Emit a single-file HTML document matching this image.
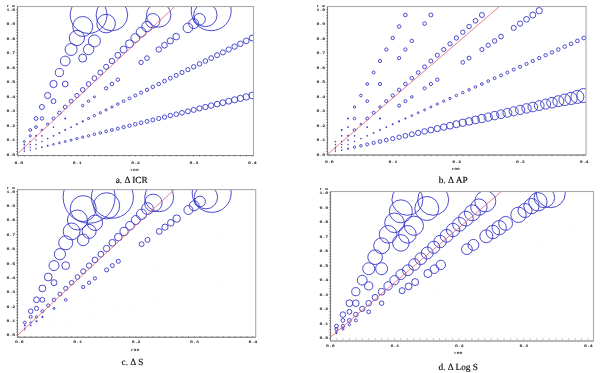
<!DOCTYPE html><html><head><meta charset="utf-8"><style>html,body{margin:0;padding:0;background:#fff;}svg{display:block}</style></head><body>
<svg width="600" height="373" viewBox="0 0 600 373">
<rect width="600" height="373" fill="#fff"/>
<clipPath id="clipa"><rect x="17.5" y="6.5" width="236.0" height="149.0"/></clipPath>
<g clip-path="url(#clipa)" fill="none" stroke="#3838c8" stroke-width="0.9">
<circle cx="24.3" cy="141.5" r="1.0"/>
<circle cx="30.2" cy="130.0" r="1.4"/>
<circle cx="36.0" cy="118.5" r="1.9"/>
<circle cx="41.9" cy="107.0" r="2.5"/>
<circle cx="47.7" cy="95.5" r="3.1"/>
<circle cx="53.5" cy="84.0" r="3.6"/>
<circle cx="59.4" cy="72.5" r="4.1"/>
<circle cx="65.2" cy="61.0" r="4.9"/>
<circle cx="71.1" cy="49.5" r="6.0"/>
<circle cx="76.9" cy="38.0" r="7.6"/>
<circle cx="82.7" cy="26.5" r="10.0"/>
<circle cx="88.6" cy="15.0" r="18.4"/>
<circle cx="24.3" cy="144.4" r="0.85" fill="#4040c0" stroke="none"/>
<circle cx="30.2" cy="135.8" r="1.1"/>
<circle cx="36.0" cy="127.1" r="1.4"/>
<circle cx="41.9" cy="118.5" r="1.7"/>
<circle cx="53.5" cy="101.2" r="2.4"/>
<circle cx="65.2" cy="84.0" r="2.9"/>
<circle cx="82.7" cy="58.1" r="4.0"/>
<circle cx="88.6" cy="49.5" r="5.2"/>
<circle cx="94.4" cy="40.9" r="6.0"/>
<circle cx="106.1" cy="23.6" r="9.3"/>
<circle cx="111.9" cy="15.0" r="15.8"/>
<circle cx="24.3" cy="147.2" r="0.75" fill="#4040c0" stroke="none"/>
<circle cx="30.2" cy="141.5" r="0.85" fill="#4040c0" stroke="none"/>
<circle cx="36.0" cy="135.8" r="0.95" fill="#4040c0" stroke="none"/>
<circle cx="41.9" cy="130.0" r="0.9"/>
<circle cx="47.7" cy="124.2" r="1.2"/>
<circle cx="53.5" cy="118.5" r="1.5"/>
<circle cx="59.4" cy="112.8" r="1.75"/>
<circle cx="65.2" cy="107.0" r="1.9"/>
<circle cx="71.1" cy="101.2" r="2.0"/>
<circle cx="76.9" cy="95.5" r="2.1"/>
<circle cx="82.7" cy="89.8" r="2.3"/>
<circle cx="88.6" cy="84.0" r="2.35"/>
<circle cx="94.4" cy="78.2" r="2.4"/>
<circle cx="100.3" cy="72.5" r="2.45"/>
<circle cx="106.1" cy="66.8" r="2.55"/>
<circle cx="111.9" cy="61.0" r="2.7"/>
<circle cx="117.8" cy="55.2" r="2.9"/>
<circle cx="123.6" cy="49.5" r="3.5"/>
<circle cx="129.5" cy="43.8" r="4.0"/>
<circle cx="135.3" cy="38.0" r="4.4"/>
<circle cx="141.1" cy="32.2" r="4.9"/>
<circle cx="147.0" cy="26.5" r="5.2"/>
<circle cx="152.8" cy="20.8" r="7.2"/>
<circle cx="158.7" cy="15.0" r="12.2"/>
<circle cx="24.3" cy="148.7" r="0.65" fill="#4040c0" stroke="none"/>
<circle cx="30.2" cy="144.4" r="0.75" fill="#4040c0" stroke="none"/>
<circle cx="36.0" cy="140.1" r="0.75" fill="#4040c0" stroke="none"/>
<circle cx="41.9" cy="135.8" r="0.85" fill="#4040c0" stroke="none"/>
<circle cx="53.5" cy="127.1" r="0.85" fill="#4040c0" stroke="none"/>
<circle cx="65.2" cy="118.5" r="0.95" fill="#4040c0" stroke="none"/>
<circle cx="82.7" cy="105.6" r="1.2"/>
<circle cx="88.6" cy="101.2" r="1.25"/>
<circle cx="94.4" cy="96.9" r="1.0"/>
<circle cx="106.1" cy="88.3" r="1.65"/>
<circle cx="111.9" cy="84.0" r="1.8"/>
<circle cx="117.8" cy="79.7" r="1.75"/>
<circle cx="141.1" cy="62.4" r="2.2"/>
<circle cx="147.0" cy="58.1" r="2.35"/>
<circle cx="158.7" cy="49.5" r="2.7"/>
<circle cx="164.5" cy="45.2" r="2.9"/>
<circle cx="170.3" cy="40.9" r="3.1"/>
<circle cx="176.2" cy="36.6" r="3.3"/>
<circle cx="187.9" cy="27.9" r="4.8"/>
<circle cx="193.7" cy="23.6" r="5.0"/>
<circle cx="199.5" cy="19.3" r="5.8"/>
<circle cx="205.4" cy="15.0" r="11.7"/>
<circle cx="211.2" cy="10.7" r="20.0"/>
<circle cx="24.3" cy="150.1" r="0.65" fill="#4040c0" stroke="none"/>
<circle cx="30.2" cy="147.2" r="0.70" fill="#4040c0" stroke="none"/>
<circle cx="36.0" cy="144.4" r="0.75" fill="#4040c0" stroke="none"/>
<circle cx="41.9" cy="141.5" r="0.80" fill="#4040c0" stroke="none"/>
<circle cx="47.7" cy="138.6" r="0.85" fill="#4040c0" stroke="none"/>
<circle cx="53.5" cy="135.8" r="0.90" fill="#4040c0" stroke="none"/>
<circle cx="59.4" cy="132.9" r="0.95" fill="#4040c0" stroke="none"/>
<circle cx="65.2" cy="130.0" r="0.95" fill="#4040c0" stroke="none"/>
<circle cx="71.1" cy="127.1" r="0.95" fill="#4040c0" stroke="none"/>
<circle cx="76.9" cy="124.2" r="1.00" fill="#4040c0" stroke="none"/>
<circle cx="82.7" cy="121.4" r="1.05" fill="#4040c0" stroke="none"/>
<circle cx="88.6" cy="118.5" r="1.1"/>
<circle cx="94.4" cy="115.6" r="1.15"/>
<circle cx="100.3" cy="112.8" r="1.15"/>
<circle cx="106.1" cy="109.9" r="1.1"/>
<circle cx="111.9" cy="107.0" r="1.1"/>
<circle cx="117.8" cy="104.1" r="1.3"/>
<circle cx="123.6" cy="101.2" r="1.37"/>
<circle cx="129.5" cy="98.4" r="1.44"/>
<circle cx="135.3" cy="95.5" r="1.51"/>
<circle cx="141.1" cy="92.6" r="1.58"/>
<circle cx="147.0" cy="89.8" r="1.65"/>
<circle cx="152.8" cy="86.9" r="1.72"/>
<circle cx="158.7" cy="84.0" r="1.79"/>
<circle cx="164.5" cy="81.1" r="1.86"/>
<circle cx="170.3" cy="78.2" r="1.93"/>
<circle cx="176.2" cy="75.4" r="2.0"/>
<circle cx="182.0" cy="72.5" r="2.07"/>
<circle cx="187.9" cy="69.6" r="2.13"/>
<circle cx="193.7" cy="66.8" r="2.2"/>
<circle cx="199.5" cy="63.9" r="2.27"/>
<circle cx="205.4" cy="61.0" r="2.34"/>
<circle cx="211.2" cy="58.1" r="2.41"/>
<circle cx="217.1" cy="55.2" r="2.48"/>
<circle cx="222.9" cy="52.4" r="2.55"/>
<circle cx="228.7" cy="49.5" r="2.62"/>
<circle cx="234.6" cy="46.6" r="2.69"/>
<circle cx="240.4" cy="43.8" r="2.76"/>
<circle cx="246.3" cy="40.9" r="2.83"/>
<circle cx="252.1" cy="38.0" r="2.9"/>
<circle cx="24.3" cy="151.6" r="0.65" fill="#4040c0" stroke="none"/>
<circle cx="30.2" cy="150.1" r="0.75" fill="#4040c0" stroke="none"/>
<circle cx="36.0" cy="148.7" r="0.80" fill="#4040c0" stroke="none"/>
<circle cx="41.9" cy="147.2" r="0.85" fill="#4040c0" stroke="none"/>
<circle cx="47.7" cy="145.8" r="0.95" fill="#4040c0" stroke="none"/>
<circle cx="53.5" cy="144.4" r="0.85"/>
<circle cx="59.4" cy="142.9" r="0.9"/>
<circle cx="65.2" cy="141.5" r="1.0"/>
<circle cx="71.1" cy="140.1" r="1.05"/>
<circle cx="76.9" cy="138.6" r="1.1"/>
<circle cx="82.7" cy="137.2" r="1.15"/>
<circle cx="88.6" cy="135.8" r="1.2"/>
<circle cx="94.4" cy="134.3" r="1.25"/>
<circle cx="100.3" cy="132.9" r="1.3"/>
<circle cx="106.1" cy="131.4" r="1.38"/>
<circle cx="111.9" cy="130.0" r="1.45"/>
<circle cx="117.8" cy="128.6" r="1.53"/>
<circle cx="123.6" cy="127.1" r="1.61"/>
<circle cx="129.5" cy="125.7" r="1.68"/>
<circle cx="135.3" cy="124.2" r="1.76"/>
<circle cx="141.1" cy="122.8" r="1.84"/>
<circle cx="147.0" cy="121.4" r="1.92"/>
<circle cx="152.8" cy="119.9" r="1.99"/>
<circle cx="158.7" cy="118.5" r="2.07"/>
<circle cx="164.5" cy="117.1" r="2.15"/>
<circle cx="170.3" cy="115.6" r="2.22"/>
<circle cx="176.2" cy="114.2" r="2.3"/>
<circle cx="182.0" cy="112.8" r="2.38"/>
<circle cx="187.9" cy="111.3" r="2.45"/>
<circle cx="193.7" cy="109.9" r="2.53"/>
<circle cx="199.5" cy="108.4" r="2.61"/>
<circle cx="205.4" cy="107.0" r="2.68"/>
<circle cx="211.2" cy="105.6" r="2.76"/>
<circle cx="217.1" cy="104.1" r="2.84"/>
<circle cx="222.9" cy="102.7" r="2.92"/>
<circle cx="228.7" cy="101.2" r="2.99"/>
<circle cx="234.6" cy="99.8" r="3.07"/>
<circle cx="240.4" cy="98.4" r="3.15"/>
<circle cx="246.3" cy="96.9" r="3.22"/>
<circle cx="252.1" cy="95.5" r="3.3"/>
</g>
<line clip-path="url(#clipa)" x1="17.5" y1="153.94" x2="174.7" y2="6.5" stroke="#e06070" stroke-width="0.8"/>
<rect x="17.5" y="6.5" width="236.0" height="149.0" fill="none" stroke="#a8a8a8" stroke-width="1.1"/>
<line x1="17.5" y1="6.5" x2="17.5" y2="155.5" stroke="#808080" stroke-width="1.1"/>
<line x1="17.5" y1="155.5" x2="253.5" y2="155.5" stroke="#858585" stroke-width="1.1"/>
<line x1="16.1" y1="154.3" x2="17.5" y2="154.3" stroke="#555" stroke-width="0.6"/>
<line x1="16.1" y1="151.4" x2="17.5" y2="151.4" stroke="#555" stroke-width="0.6"/>
<line x1="16.1" y1="148.5" x2="17.5" y2="148.5" stroke="#555" stroke-width="0.6"/>
<line x1="16.1" y1="145.6" x2="17.5" y2="145.6" stroke="#555" stroke-width="0.6"/>
<line x1="16.1" y1="142.7" x2="17.5" y2="142.7" stroke="#555" stroke-width="0.6"/>
<line x1="16.1" y1="139.8" x2="17.5" y2="139.8" stroke="#555" stroke-width="0.6"/>
<line x1="16.1" y1="136.9" x2="17.5" y2="136.9" stroke="#555" stroke-width="0.6"/>
<line x1="16.1" y1="134.0" x2="17.5" y2="134.0" stroke="#555" stroke-width="0.6"/>
<line x1="16.1" y1="131.1" x2="17.5" y2="131.1" stroke="#555" stroke-width="0.6"/>
<line x1="16.1" y1="128.2" x2="17.5" y2="128.2" stroke="#555" stroke-width="0.6"/>
<line x1="16.1" y1="125.3" x2="17.5" y2="125.3" stroke="#555" stroke-width="0.6"/>
<line x1="16.1" y1="122.4" x2="17.5" y2="122.4" stroke="#555" stroke-width="0.6"/>
<line x1="16.1" y1="119.5" x2="17.5" y2="119.5" stroke="#555" stroke-width="0.6"/>
<line x1="16.1" y1="116.7" x2="17.5" y2="116.7" stroke="#555" stroke-width="0.6"/>
<line x1="16.1" y1="113.8" x2="17.5" y2="113.8" stroke="#555" stroke-width="0.6"/>
<line x1="16.1" y1="110.9" x2="17.5" y2="110.9" stroke="#555" stroke-width="0.6"/>
<line x1="16.1" y1="108.0" x2="17.5" y2="108.0" stroke="#555" stroke-width="0.6"/>
<line x1="16.1" y1="105.1" x2="17.5" y2="105.1" stroke="#555" stroke-width="0.6"/>
<line x1="16.1" y1="102.2" x2="17.5" y2="102.2" stroke="#555" stroke-width="0.6"/>
<line x1="16.1" y1="99.3" x2="17.5" y2="99.3" stroke="#555" stroke-width="0.6"/>
<line x1="16.1" y1="96.4" x2="17.5" y2="96.4" stroke="#555" stroke-width="0.6"/>
<line x1="16.1" y1="93.5" x2="17.5" y2="93.5" stroke="#555" stroke-width="0.6"/>
<line x1="16.1" y1="90.6" x2="17.5" y2="90.6" stroke="#555" stroke-width="0.6"/>
<line x1="16.1" y1="87.7" x2="17.5" y2="87.7" stroke="#555" stroke-width="0.6"/>
<line x1="16.1" y1="84.8" x2="17.5" y2="84.8" stroke="#555" stroke-width="0.6"/>
<line x1="16.1" y1="81.9" x2="17.5" y2="81.9" stroke="#555" stroke-width="0.6"/>
<line x1="16.1" y1="79.0" x2="17.5" y2="79.0" stroke="#555" stroke-width="0.6"/>
<line x1="16.1" y1="76.1" x2="17.5" y2="76.1" stroke="#555" stroke-width="0.6"/>
<line x1="16.1" y1="73.2" x2="17.5" y2="73.2" stroke="#555" stroke-width="0.6"/>
<line x1="16.1" y1="70.3" x2="17.5" y2="70.3" stroke="#555" stroke-width="0.6"/>
<line x1="16.1" y1="67.4" x2="17.5" y2="67.4" stroke="#555" stroke-width="0.6"/>
<line x1="16.1" y1="64.5" x2="17.5" y2="64.5" stroke="#555" stroke-width="0.6"/>
<line x1="16.1" y1="61.6" x2="17.5" y2="61.6" stroke="#555" stroke-width="0.6"/>
<line x1="16.1" y1="58.7" x2="17.5" y2="58.7" stroke="#555" stroke-width="0.6"/>
<line x1="16.1" y1="55.8" x2="17.5" y2="55.8" stroke="#555" stroke-width="0.6"/>
<line x1="16.1" y1="52.9" x2="17.5" y2="52.9" stroke="#555" stroke-width="0.6"/>
<line x1="16.1" y1="50.0" x2="17.5" y2="50.0" stroke="#555" stroke-width="0.6"/>
<line x1="16.1" y1="47.1" x2="17.5" y2="47.1" stroke="#555" stroke-width="0.6"/>
<line x1="16.1" y1="44.3" x2="17.5" y2="44.3" stroke="#555" stroke-width="0.6"/>
<line x1="16.1" y1="41.4" x2="17.5" y2="41.4" stroke="#555" stroke-width="0.6"/>
<line x1="16.1" y1="38.5" x2="17.5" y2="38.5" stroke="#555" stroke-width="0.6"/>
<line x1="16.1" y1="35.6" x2="17.5" y2="35.6" stroke="#555" stroke-width="0.6"/>
<line x1="16.1" y1="32.7" x2="17.5" y2="32.7" stroke="#555" stroke-width="0.6"/>
<line x1="16.1" y1="29.8" x2="17.5" y2="29.8" stroke="#555" stroke-width="0.6"/>
<line x1="16.1" y1="26.9" x2="17.5" y2="26.9" stroke="#555" stroke-width="0.6"/>
<line x1="16.1" y1="24.0" x2="17.5" y2="24.0" stroke="#555" stroke-width="0.6"/>
<line x1="16.1" y1="21.1" x2="17.5" y2="21.1" stroke="#555" stroke-width="0.6"/>
<line x1="16.1" y1="18.2" x2="17.5" y2="18.2" stroke="#555" stroke-width="0.6"/>
<line x1="16.1" y1="15.3" x2="17.5" y2="15.3" stroke="#555" stroke-width="0.6"/>
<line x1="16.1" y1="12.4" x2="17.5" y2="12.4" stroke="#555" stroke-width="0.6"/>
<line x1="16.1" y1="9.5" x2="17.5" y2="9.5" stroke="#555" stroke-width="0.6"/>
<line x1="18.5" y1="155.5" x2="18.5" y2="156.7" stroke="#666" stroke-width="0.7"/>
<line x1="24.3" y1="155.5" x2="24.3" y2="156.7" stroke="#666" stroke-width="0.7"/>
<line x1="30.2" y1="155.5" x2="30.2" y2="156.7" stroke="#666" stroke-width="0.7"/>
<line x1="36.0" y1="155.5" x2="36.0" y2="156.7" stroke="#666" stroke-width="0.7"/>
<line x1="41.9" y1="155.5" x2="41.9" y2="156.7" stroke="#666" stroke-width="0.7"/>
<line x1="47.7" y1="155.5" x2="47.7" y2="156.7" stroke="#666" stroke-width="0.7"/>
<line x1="53.5" y1="155.5" x2="53.5" y2="156.7" stroke="#666" stroke-width="0.7"/>
<line x1="59.4" y1="155.5" x2="59.4" y2="156.7" stroke="#666" stroke-width="0.7"/>
<line x1="65.2" y1="155.5" x2="65.2" y2="156.7" stroke="#666" stroke-width="0.7"/>
<line x1="71.1" y1="155.5" x2="71.1" y2="156.7" stroke="#666" stroke-width="0.7"/>
<line x1="76.9" y1="155.5" x2="76.9" y2="156.7" stroke="#666" stroke-width="0.7"/>
<line x1="82.7" y1="155.5" x2="82.7" y2="156.7" stroke="#666" stroke-width="0.7"/>
<line x1="88.6" y1="155.5" x2="88.6" y2="156.7" stroke="#666" stroke-width="0.7"/>
<line x1="94.4" y1="155.5" x2="94.4" y2="156.7" stroke="#666" stroke-width="0.7"/>
<line x1="100.3" y1="155.5" x2="100.3" y2="156.7" stroke="#666" stroke-width="0.7"/>
<line x1="106.1" y1="155.5" x2="106.1" y2="156.7" stroke="#666" stroke-width="0.7"/>
<line x1="111.9" y1="155.5" x2="111.9" y2="156.7" stroke="#666" stroke-width="0.7"/>
<line x1="117.8" y1="155.5" x2="117.8" y2="156.7" stroke="#666" stroke-width="0.7"/>
<line x1="123.6" y1="155.5" x2="123.6" y2="156.7" stroke="#666" stroke-width="0.7"/>
<line x1="129.5" y1="155.5" x2="129.5" y2="156.7" stroke="#666" stroke-width="0.7"/>
<line x1="135.3" y1="155.5" x2="135.3" y2="156.7" stroke="#666" stroke-width="0.7"/>
<line x1="141.1" y1="155.5" x2="141.1" y2="156.7" stroke="#666" stroke-width="0.7"/>
<line x1="147.0" y1="155.5" x2="147.0" y2="156.7" stroke="#666" stroke-width="0.7"/>
<line x1="152.8" y1="155.5" x2="152.8" y2="156.7" stroke="#666" stroke-width="0.7"/>
<line x1="158.7" y1="155.5" x2="158.7" y2="156.7" stroke="#666" stroke-width="0.7"/>
<line x1="164.5" y1="155.5" x2="164.5" y2="156.7" stroke="#666" stroke-width="0.7"/>
<line x1="170.3" y1="155.5" x2="170.3" y2="156.7" stroke="#666" stroke-width="0.7"/>
<line x1="176.2" y1="155.5" x2="176.2" y2="156.7" stroke="#666" stroke-width="0.7"/>
<line x1="182.0" y1="155.5" x2="182.0" y2="156.7" stroke="#666" stroke-width="0.7"/>
<line x1="187.9" y1="155.5" x2="187.9" y2="156.7" stroke="#666" stroke-width="0.7"/>
<line x1="193.7" y1="155.5" x2="193.7" y2="156.7" stroke="#666" stroke-width="0.7"/>
<line x1="199.5" y1="155.5" x2="199.5" y2="156.7" stroke="#666" stroke-width="0.7"/>
<line x1="205.4" y1="155.5" x2="205.4" y2="156.7" stroke="#666" stroke-width="0.7"/>
<line x1="211.2" y1="155.5" x2="211.2" y2="156.7" stroke="#666" stroke-width="0.7"/>
<line x1="217.1" y1="155.5" x2="217.1" y2="156.7" stroke="#666" stroke-width="0.7"/>
<line x1="222.9" y1="155.5" x2="222.9" y2="156.7" stroke="#666" stroke-width="0.7"/>
<line x1="228.7" y1="155.5" x2="228.7" y2="156.7" stroke="#666" stroke-width="0.7"/>
<line x1="234.6" y1="155.5" x2="234.6" y2="156.7" stroke="#666" stroke-width="0.7"/>
<line x1="240.4" y1="155.5" x2="240.4" y2="156.7" stroke="#666" stroke-width="0.7"/>
<line x1="246.3" y1="155.5" x2="246.3" y2="156.7" stroke="#666" stroke-width="0.7"/>
<line x1="252.1" y1="155.5" x2="252.1" y2="156.7" stroke="#666" stroke-width="0.7"/>
<clipPath id="clipb"><rect x="327.5" y="6.5" width="258.5" height="148.5"/></clipPath>
<g clip-path="url(#clipb)" fill="none" stroke="#3838c8" stroke-width="0.9">
<circle cx="335.4" cy="141.5" r="0.85" fill="#4040c0" stroke="none"/>
<circle cx="341.7" cy="130.0" r="0.95" fill="#4040c0" stroke="none"/>
<circle cx="348.1" cy="118.5" r="0.95" fill="#4040c0" stroke="none"/>
<circle cx="354.5" cy="107.0" r="1.2"/>
<circle cx="360.9" cy="95.5" r="1.3"/>
<circle cx="367.2" cy="84.0" r="1.35"/>
<circle cx="373.6" cy="72.5" r="1.5"/>
<circle cx="380.0" cy="61.0" r="1.6"/>
<circle cx="386.3" cy="49.5" r="1.65"/>
<circle cx="392.7" cy="38.0" r="1.7"/>
<circle cx="399.1" cy="26.5" r="1.75"/>
<circle cx="405.4" cy="15.0" r="1.8"/>
<circle cx="335.4" cy="144.4" r="0.75" fill="#4040c0" stroke="none"/>
<circle cx="341.7" cy="135.8" r="0.85" fill="#4040c0" stroke="none"/>
<circle cx="348.1" cy="127.1" r="0.95" fill="#4040c0" stroke="none"/>
<circle cx="354.5" cy="118.5" r="1.3"/>
<circle cx="367.2" cy="101.2" r="1.4"/>
<circle cx="380.0" cy="84.0" r="1.6"/>
<circle cx="399.1" cy="58.1" r="1.6"/>
<circle cx="405.4" cy="49.5" r="1.65"/>
<circle cx="411.8" cy="40.9" r="1.7"/>
<circle cx="424.6" cy="23.6" r="1.8"/>
<circle cx="430.9" cy="15.0" r="2.0"/>
<circle cx="335.4" cy="147.2" r="0.75" fill="#4040c0" stroke="none"/>
<circle cx="341.7" cy="141.5" r="0.85" fill="#4040c0" stroke="none"/>
<circle cx="348.1" cy="135.8" r="0.95" fill="#4040c0" stroke="none"/>
<circle cx="354.5" cy="130.0" r="1.35"/>
<circle cx="360.9" cy="124.2" r="0.9"/>
<circle cx="367.2" cy="118.5" r="1.45"/>
<circle cx="373.6" cy="112.8" r="1.5"/>
<circle cx="380.0" cy="107.0" r="1.25"/>
<circle cx="386.3" cy="101.2" r="1.6"/>
<circle cx="392.7" cy="95.5" r="1.65"/>
<circle cx="399.1" cy="89.8" r="1.7"/>
<circle cx="405.4" cy="84.0" r="1.75"/>
<circle cx="411.8" cy="78.2" r="1.8"/>
<circle cx="418.2" cy="72.5" r="1.85"/>
<circle cx="424.6" cy="66.8" r="1.95"/>
<circle cx="430.9" cy="61.0" r="1.95"/>
<circle cx="437.3" cy="55.2" r="2.05"/>
<circle cx="443.7" cy="49.5" r="2.05"/>
<circle cx="450.0" cy="43.8" r="2.1"/>
<circle cx="456.4" cy="38.0" r="2.15"/>
<circle cx="462.8" cy="32.2" r="2.2"/>
<circle cx="469.1" cy="26.5" r="2.25"/>
<circle cx="475.5" cy="20.8" r="2.35"/>
<circle cx="481.9" cy="15.0" r="2.5"/>
<circle cx="335.4" cy="148.7" r="0.65" fill="#4040c0" stroke="none"/>
<circle cx="341.7" cy="144.4" r="0.75" fill="#4040c0" stroke="none"/>
<circle cx="348.1" cy="140.1" r="0.85" fill="#4040c0" stroke="none"/>
<circle cx="354.5" cy="135.8" r="0.85" fill="#4040c0" stroke="none"/>
<circle cx="367.2" cy="127.1" r="0.95" fill="#4040c0" stroke="none"/>
<circle cx="380.0" cy="118.5" r="1.05" fill="#4040c0" stroke="none"/>
<circle cx="399.1" cy="105.6" r="1.5"/>
<circle cx="405.4" cy="101.2" r="1.55"/>
<circle cx="411.8" cy="96.9" r="1.25"/>
<circle cx="424.6" cy="88.3" r="1.55"/>
<circle cx="430.9" cy="84.0" r="1.65"/>
<circle cx="437.3" cy="79.7" r="1.7"/>
<circle cx="462.8" cy="62.4" r="1.85"/>
<circle cx="469.1" cy="58.1" r="1.95"/>
<circle cx="481.9" cy="49.5" r="2.05"/>
<circle cx="488.2" cy="45.2" r="2.15"/>
<circle cx="494.6" cy="40.9" r="2.25"/>
<circle cx="501.0" cy="36.6" r="2.35"/>
<circle cx="513.7" cy="27.9" r="2.5"/>
<circle cx="520.1" cy="23.6" r="2.65"/>
<circle cx="526.5" cy="19.3" r="2.85"/>
<circle cx="532.8" cy="15.0" r="3.0"/>
<circle cx="539.2" cy="10.7" r="3.15"/>
<circle cx="335.4" cy="150.1" r="0.65" fill="#4040c0" stroke="none"/>
<circle cx="341.7" cy="147.2" r="0.69" fill="#4040c0" stroke="none"/>
<circle cx="348.1" cy="144.4" r="0.73" fill="#4040c0" stroke="none"/>
<circle cx="354.5" cy="141.5" r="0.77" fill="#4040c0" stroke="none"/>
<circle cx="360.9" cy="138.6" r="0.81" fill="#4040c0" stroke="none"/>
<circle cx="367.2" cy="135.8" r="0.85" fill="#4040c0" stroke="none"/>
<circle cx="373.6" cy="132.9" r="0.89" fill="#4040c0" stroke="none"/>
<circle cx="380.0" cy="130.0" r="0.93" fill="#4040c0" stroke="none"/>
<circle cx="386.3" cy="127.1" r="0.97" fill="#4040c0" stroke="none"/>
<circle cx="392.7" cy="124.2" r="1.01" fill="#4040c0" stroke="none"/>
<circle cx="399.1" cy="121.4" r="1.05" fill="#4040c0" stroke="none"/>
<circle cx="405.4" cy="118.5" r="1.09" fill="#4040c0" stroke="none"/>
<circle cx="411.8" cy="115.6" r="0.88"/>
<circle cx="418.2" cy="112.8" r="0.92"/>
<circle cx="424.6" cy="109.9" r="0.96"/>
<circle cx="430.9" cy="107.0" r="1.0"/>
<circle cx="437.3" cy="104.1" r="1.1"/>
<circle cx="443.7" cy="101.2" r="1.13"/>
<circle cx="450.0" cy="98.4" r="1.17"/>
<circle cx="456.4" cy="95.5" r="1.2"/>
<circle cx="462.8" cy="92.6" r="1.24"/>
<circle cx="469.1" cy="89.8" r="1.27"/>
<circle cx="475.5" cy="86.9" r="1.31"/>
<circle cx="481.9" cy="84.0" r="1.34"/>
<circle cx="488.2" cy="81.1" r="1.38"/>
<circle cx="494.6" cy="78.2" r="1.41"/>
<circle cx="501.0" cy="75.4" r="1.45"/>
<circle cx="507.4" cy="72.5" r="1.48"/>
<circle cx="513.7" cy="69.6" r="1.52"/>
<circle cx="520.1" cy="66.8" r="1.55"/>
<circle cx="526.5" cy="63.9" r="1.59"/>
<circle cx="532.8" cy="61.0" r="1.62"/>
<circle cx="539.2" cy="58.1" r="1.66"/>
<circle cx="545.6" cy="55.2" r="1.69"/>
<circle cx="552.0" cy="52.4" r="1.73"/>
<circle cx="558.3" cy="49.5" r="1.76"/>
<circle cx="564.7" cy="46.6" r="1.8"/>
<circle cx="571.1" cy="43.8" r="1.83"/>
<circle cx="577.4" cy="40.9" r="1.87"/>
<circle cx="583.8" cy="38.0" r="1.9"/>
<circle cx="335.4" cy="151.6" r="0.65" fill="#4040c0" stroke="none"/>
<circle cx="341.7" cy="150.1" r="0.85" fill="#4040c0" stroke="none"/>
<circle cx="348.1" cy="148.7" r="1.05" fill="#4040c0" stroke="none"/>
<circle cx="354.5" cy="147.2" r="1.2"/>
<circle cx="360.9" cy="145.8" r="1.3"/>
<circle cx="367.2" cy="144.4" r="1.5"/>
<circle cx="373.6" cy="142.9" r="1.6"/>
<circle cx="380.0" cy="141.5" r="1.8"/>
<circle cx="386.3" cy="140.1" r="1.9"/>
<circle cx="392.7" cy="138.6" r="2.05"/>
<circle cx="399.1" cy="137.2" r="2.2"/>
<circle cx="405.4" cy="135.8" r="2.35"/>
<circle cx="411.8" cy="134.3" r="2.5"/>
<circle cx="418.2" cy="132.9" r="2.65"/>
<circle cx="424.6" cy="131.4" r="2.8"/>
<circle cx="430.9" cy="130.0" r="2.95"/>
<circle cx="437.3" cy="128.6" r="3.1"/>
<circle cx="443.7" cy="127.1" r="3.25"/>
<circle cx="450.0" cy="125.7" r="3.4"/>
<circle cx="456.4" cy="124.2" r="3.55"/>
<circle cx="462.8" cy="122.8" r="3.7"/>
<circle cx="469.1" cy="121.4" r="3.85"/>
<circle cx="475.5" cy="119.9" r="3.95"/>
<circle cx="481.9" cy="118.5" r="4.05"/>
<circle cx="488.2" cy="117.1" r="4.14"/>
<circle cx="494.6" cy="115.6" r="4.24"/>
<circle cx="501.0" cy="114.2" r="4.34"/>
<circle cx="507.4" cy="112.8" r="4.44"/>
<circle cx="513.7" cy="111.3" r="4.53"/>
<circle cx="520.1" cy="109.9" r="4.63"/>
<circle cx="526.5" cy="108.4" r="4.73"/>
<circle cx="532.8" cy="107.0" r="4.82"/>
<circle cx="539.2" cy="105.6" r="4.92"/>
<circle cx="545.6" cy="104.1" r="5.02"/>
<circle cx="552.0" cy="102.7" r="5.3"/>
<circle cx="558.3" cy="101.2" r="5.5"/>
<circle cx="564.7" cy="99.8" r="5.8"/>
<circle cx="571.1" cy="98.4" r="6.1"/>
<circle cx="577.4" cy="96.9" r="6.5"/>
<circle cx="583.8" cy="95.5" r="7.0"/>
</g>
<line clip-path="url(#clipb)" x1="327.5" y1="154.29" x2="499.4" y2="6.5" stroke="#e06070" stroke-width="0.8"/>
<rect x="327.5" y="6.5" width="258.5" height="148.5" fill="none" stroke="#a8a8a8" stroke-width="1.1"/>
<line x1="327.5" y1="6.5" x2="327.5" y2="155" stroke="#808080" stroke-width="1.1"/>
<line x1="327.5" y1="155" x2="586" y2="155" stroke="#858585" stroke-width="1.1"/>
<line x1="326.1" y1="154.3" x2="327.5" y2="154.3" stroke="#555" stroke-width="0.6"/>
<line x1="326.1" y1="151.4" x2="327.5" y2="151.4" stroke="#555" stroke-width="0.6"/>
<line x1="326.1" y1="148.5" x2="327.5" y2="148.5" stroke="#555" stroke-width="0.6"/>
<line x1="326.1" y1="145.6" x2="327.5" y2="145.6" stroke="#555" stroke-width="0.6"/>
<line x1="326.1" y1="142.7" x2="327.5" y2="142.7" stroke="#555" stroke-width="0.6"/>
<line x1="326.1" y1="139.8" x2="327.5" y2="139.8" stroke="#555" stroke-width="0.6"/>
<line x1="326.1" y1="136.9" x2="327.5" y2="136.9" stroke="#555" stroke-width="0.6"/>
<line x1="326.1" y1="134.0" x2="327.5" y2="134.0" stroke="#555" stroke-width="0.6"/>
<line x1="326.1" y1="131.1" x2="327.5" y2="131.1" stroke="#555" stroke-width="0.6"/>
<line x1="326.1" y1="128.2" x2="327.5" y2="128.2" stroke="#555" stroke-width="0.6"/>
<line x1="326.1" y1="125.3" x2="327.5" y2="125.3" stroke="#555" stroke-width="0.6"/>
<line x1="326.1" y1="122.4" x2="327.5" y2="122.4" stroke="#555" stroke-width="0.6"/>
<line x1="326.1" y1="119.5" x2="327.5" y2="119.5" stroke="#555" stroke-width="0.6"/>
<line x1="326.1" y1="116.7" x2="327.5" y2="116.7" stroke="#555" stroke-width="0.6"/>
<line x1="326.1" y1="113.8" x2="327.5" y2="113.8" stroke="#555" stroke-width="0.6"/>
<line x1="326.1" y1="110.9" x2="327.5" y2="110.9" stroke="#555" stroke-width="0.6"/>
<line x1="326.1" y1="108.0" x2="327.5" y2="108.0" stroke="#555" stroke-width="0.6"/>
<line x1="326.1" y1="105.1" x2="327.5" y2="105.1" stroke="#555" stroke-width="0.6"/>
<line x1="326.1" y1="102.2" x2="327.5" y2="102.2" stroke="#555" stroke-width="0.6"/>
<line x1="326.1" y1="99.3" x2="327.5" y2="99.3" stroke="#555" stroke-width="0.6"/>
<line x1="326.1" y1="96.4" x2="327.5" y2="96.4" stroke="#555" stroke-width="0.6"/>
<line x1="326.1" y1="93.5" x2="327.5" y2="93.5" stroke="#555" stroke-width="0.6"/>
<line x1="326.1" y1="90.6" x2="327.5" y2="90.6" stroke="#555" stroke-width="0.6"/>
<line x1="326.1" y1="87.7" x2="327.5" y2="87.7" stroke="#555" stroke-width="0.6"/>
<line x1="326.1" y1="84.8" x2="327.5" y2="84.8" stroke="#555" stroke-width="0.6"/>
<line x1="326.1" y1="81.9" x2="327.5" y2="81.9" stroke="#555" stroke-width="0.6"/>
<line x1="326.1" y1="79.0" x2="327.5" y2="79.0" stroke="#555" stroke-width="0.6"/>
<line x1="326.1" y1="76.1" x2="327.5" y2="76.1" stroke="#555" stroke-width="0.6"/>
<line x1="326.1" y1="73.2" x2="327.5" y2="73.2" stroke="#555" stroke-width="0.6"/>
<line x1="326.1" y1="70.3" x2="327.5" y2="70.3" stroke="#555" stroke-width="0.6"/>
<line x1="326.1" y1="67.4" x2="327.5" y2="67.4" stroke="#555" stroke-width="0.6"/>
<line x1="326.1" y1="64.5" x2="327.5" y2="64.5" stroke="#555" stroke-width="0.6"/>
<line x1="326.1" y1="61.6" x2="327.5" y2="61.6" stroke="#555" stroke-width="0.6"/>
<line x1="326.1" y1="58.7" x2="327.5" y2="58.7" stroke="#555" stroke-width="0.6"/>
<line x1="326.1" y1="55.8" x2="327.5" y2="55.8" stroke="#555" stroke-width="0.6"/>
<line x1="326.1" y1="52.9" x2="327.5" y2="52.9" stroke="#555" stroke-width="0.6"/>
<line x1="326.1" y1="50.0" x2="327.5" y2="50.0" stroke="#555" stroke-width="0.6"/>
<line x1="326.1" y1="47.1" x2="327.5" y2="47.1" stroke="#555" stroke-width="0.6"/>
<line x1="326.1" y1="44.3" x2="327.5" y2="44.3" stroke="#555" stroke-width="0.6"/>
<line x1="326.1" y1="41.4" x2="327.5" y2="41.4" stroke="#555" stroke-width="0.6"/>
<line x1="326.1" y1="38.5" x2="327.5" y2="38.5" stroke="#555" stroke-width="0.6"/>
<line x1="326.1" y1="35.6" x2="327.5" y2="35.6" stroke="#555" stroke-width="0.6"/>
<line x1="326.1" y1="32.7" x2="327.5" y2="32.7" stroke="#555" stroke-width="0.6"/>
<line x1="326.1" y1="29.8" x2="327.5" y2="29.8" stroke="#555" stroke-width="0.6"/>
<line x1="326.1" y1="26.9" x2="327.5" y2="26.9" stroke="#555" stroke-width="0.6"/>
<line x1="326.1" y1="24.0" x2="327.5" y2="24.0" stroke="#555" stroke-width="0.6"/>
<line x1="326.1" y1="21.1" x2="327.5" y2="21.1" stroke="#555" stroke-width="0.6"/>
<line x1="326.1" y1="18.2" x2="327.5" y2="18.2" stroke="#555" stroke-width="0.6"/>
<line x1="326.1" y1="15.3" x2="327.5" y2="15.3" stroke="#555" stroke-width="0.6"/>
<line x1="326.1" y1="12.4" x2="327.5" y2="12.4" stroke="#555" stroke-width="0.6"/>
<line x1="326.1" y1="9.5" x2="327.5" y2="9.5" stroke="#555" stroke-width="0.6"/>
<line x1="329.0" y1="155" x2="329.0" y2="156.2" stroke="#666" stroke-width="0.7"/>
<line x1="335.4" y1="155" x2="335.4" y2="156.2" stroke="#666" stroke-width="0.7"/>
<line x1="341.7" y1="155" x2="341.7" y2="156.2" stroke="#666" stroke-width="0.7"/>
<line x1="348.1" y1="155" x2="348.1" y2="156.2" stroke="#666" stroke-width="0.7"/>
<line x1="354.5" y1="155" x2="354.5" y2="156.2" stroke="#666" stroke-width="0.7"/>
<line x1="360.9" y1="155" x2="360.9" y2="156.2" stroke="#666" stroke-width="0.7"/>
<line x1="367.2" y1="155" x2="367.2" y2="156.2" stroke="#666" stroke-width="0.7"/>
<line x1="373.6" y1="155" x2="373.6" y2="156.2" stroke="#666" stroke-width="0.7"/>
<line x1="380.0" y1="155" x2="380.0" y2="156.2" stroke="#666" stroke-width="0.7"/>
<line x1="386.3" y1="155" x2="386.3" y2="156.2" stroke="#666" stroke-width="0.7"/>
<line x1="392.7" y1="155" x2="392.7" y2="156.2" stroke="#666" stroke-width="0.7"/>
<line x1="399.1" y1="155" x2="399.1" y2="156.2" stroke="#666" stroke-width="0.7"/>
<line x1="405.4" y1="155" x2="405.4" y2="156.2" stroke="#666" stroke-width="0.7"/>
<line x1="411.8" y1="155" x2="411.8" y2="156.2" stroke="#666" stroke-width="0.7"/>
<line x1="418.2" y1="155" x2="418.2" y2="156.2" stroke="#666" stroke-width="0.7"/>
<line x1="424.6" y1="155" x2="424.6" y2="156.2" stroke="#666" stroke-width="0.7"/>
<line x1="430.9" y1="155" x2="430.9" y2="156.2" stroke="#666" stroke-width="0.7"/>
<line x1="437.3" y1="155" x2="437.3" y2="156.2" stroke="#666" stroke-width="0.7"/>
<line x1="443.7" y1="155" x2="443.7" y2="156.2" stroke="#666" stroke-width="0.7"/>
<line x1="450.0" y1="155" x2="450.0" y2="156.2" stroke="#666" stroke-width="0.7"/>
<line x1="456.4" y1="155" x2="456.4" y2="156.2" stroke="#666" stroke-width="0.7"/>
<line x1="462.8" y1="155" x2="462.8" y2="156.2" stroke="#666" stroke-width="0.7"/>
<line x1="469.1" y1="155" x2="469.1" y2="156.2" stroke="#666" stroke-width="0.7"/>
<line x1="475.5" y1="155" x2="475.5" y2="156.2" stroke="#666" stroke-width="0.7"/>
<line x1="481.9" y1="155" x2="481.9" y2="156.2" stroke="#666" stroke-width="0.7"/>
<line x1="488.2" y1="155" x2="488.2" y2="156.2" stroke="#666" stroke-width="0.7"/>
<line x1="494.6" y1="155" x2="494.6" y2="156.2" stroke="#666" stroke-width="0.7"/>
<line x1="501.0" y1="155" x2="501.0" y2="156.2" stroke="#666" stroke-width="0.7"/>
<line x1="507.4" y1="155" x2="507.4" y2="156.2" stroke="#666" stroke-width="0.7"/>
<line x1="513.7" y1="155" x2="513.7" y2="156.2" stroke="#666" stroke-width="0.7"/>
<line x1="520.1" y1="155" x2="520.1" y2="156.2" stroke="#666" stroke-width="0.7"/>
<line x1="526.5" y1="155" x2="526.5" y2="156.2" stroke="#666" stroke-width="0.7"/>
<line x1="532.8" y1="155" x2="532.8" y2="156.2" stroke="#666" stroke-width="0.7"/>
<line x1="539.2" y1="155" x2="539.2" y2="156.2" stroke="#666" stroke-width="0.7"/>
<line x1="545.6" y1="155" x2="545.6" y2="156.2" stroke="#666" stroke-width="0.7"/>
<line x1="552.0" y1="155" x2="552.0" y2="156.2" stroke="#666" stroke-width="0.7"/>
<line x1="558.3" y1="155" x2="558.3" y2="156.2" stroke="#666" stroke-width="0.7"/>
<line x1="564.7" y1="155" x2="564.7" y2="156.2" stroke="#666" stroke-width="0.7"/>
<line x1="571.1" y1="155" x2="571.1" y2="156.2" stroke="#666" stroke-width="0.7"/>
<line x1="577.4" y1="155" x2="577.4" y2="156.2" stroke="#666" stroke-width="0.7"/>
<line x1="583.8" y1="155" x2="583.8" y2="156.2" stroke="#666" stroke-width="0.7"/>
<clipPath id="clipc"><rect x="17.5" y="189.6" width="238.2" height="147.70000000000002"/></clipPath>
<g clip-path="url(#clipc)" fill="none" stroke="#3838c8" stroke-width="0.9">
<circle cx="24.8" cy="322.6" r="1.4"/>
<circle cx="30.7" cy="311.2" r="2.3"/>
<circle cx="36.5" cy="299.8" r="2.9"/>
<circle cx="42.4" cy="288.4" r="3.4"/>
<circle cx="48.2" cy="277.0" r="3.9"/>
<circle cx="54.0" cy="265.6" r="5.0"/>
<circle cx="59.9" cy="254.2" r="5.6"/>
<circle cx="65.7" cy="242.8" r="7.0"/>
<circle cx="71.6" cy="231.4" r="8.4"/>
<circle cx="77.4" cy="220.0" r="10.0"/>
<circle cx="83.2" cy="208.6" r="13.0"/>
<circle cx="89.1" cy="197.2" r="26.0"/>
<circle cx="24.8" cy="325.4" r="0.95" fill="#4040c0" stroke="none"/>
<circle cx="30.7" cy="316.9" r="1.5"/>
<circle cx="36.5" cy="308.4" r="2.1"/>
<circle cx="42.4" cy="299.8" r="2.4"/>
<circle cx="54.0" cy="282.7" r="3.0"/>
<circle cx="65.7" cy="265.6" r="3.9"/>
<circle cx="83.2" cy="239.9" r="5.8"/>
<circle cx="89.1" cy="231.4" r="7.0"/>
<circle cx="94.9" cy="222.8" r="7.7"/>
<circle cx="106.6" cy="205.8" r="13.1"/>
<circle cx="112.4" cy="197.2" r="21.0"/>
<circle cx="24.8" cy="328.3" r="0.75" fill="#4040c0" stroke="none"/>
<circle cx="30.7" cy="322.6" r="0.9"/>
<circle cx="36.5" cy="316.9" r="1.15"/>
<circle cx="42.4" cy="311.2" r="1.5"/>
<circle cx="48.2" cy="305.5" r="1.6"/>
<circle cx="54.0" cy="299.8" r="1.75"/>
<circle cx="59.9" cy="294.1" r="1.95"/>
<circle cx="65.7" cy="288.4" r="2.1"/>
<circle cx="71.6" cy="282.7" r="2.25"/>
<circle cx="77.4" cy="277.0" r="2.35"/>
<circle cx="83.2" cy="271.3" r="2.5"/>
<circle cx="89.1" cy="265.6" r="2.7"/>
<circle cx="94.9" cy="259.9" r="2.8"/>
<circle cx="100.8" cy="254.2" r="2.9"/>
<circle cx="106.6" cy="248.5" r="3.2"/>
<circle cx="112.4" cy="242.8" r="3.4"/>
<circle cx="118.3" cy="237.1" r="3.8"/>
<circle cx="124.1" cy="231.4" r="4.1"/>
<circle cx="130.0" cy="225.7" r="4.3"/>
<circle cx="135.8" cy="220.0" r="4.5"/>
<circle cx="141.6" cy="214.3" r="5.2"/>
<circle cx="147.5" cy="208.6" r="5.9"/>
<circle cx="153.3" cy="202.9" r="8.8"/>
<circle cx="159.2" cy="197.2" r="14.5"/>
<circle cx="24.8" cy="329.7" r="0.65" fill="#4040c0" stroke="none"/>
<circle cx="30.7" cy="325.4" r="0.85" fill="#4040c0" stroke="none"/>
<circle cx="36.5" cy="321.2" r="1.05" fill="#4040c0" stroke="none"/>
<circle cx="42.4" cy="316.9" r="1.05" fill="#4040c0" stroke="none"/>
<circle cx="54.0" cy="308.4" r="1.0"/>
<circle cx="65.7" cy="299.8" r="1.3"/>
<circle cx="83.2" cy="287.0" r="1.6"/>
<circle cx="89.1" cy="282.7" r="1.65"/>
<circle cx="94.9" cy="278.4" r="1.65"/>
<circle cx="106.6" cy="269.9" r="2.0"/>
<circle cx="112.4" cy="265.6" r="2.0"/>
<circle cx="118.3" cy="261.3" r="2.05"/>
<circle cx="141.6" cy="244.2" r="2.45"/>
<circle cx="147.5" cy="239.9" r="2.5"/>
<circle cx="159.2" cy="231.4" r="2.9"/>
<circle cx="165.0" cy="227.1" r="3.1"/>
<circle cx="170.8" cy="222.8" r="3.3"/>
<circle cx="176.7" cy="218.6" r="3.7"/>
<circle cx="188.4" cy="210.0" r="4.5"/>
<circle cx="194.2" cy="205.8" r="5.0"/>
<circle cx="200.0" cy="201.5" r="5.4"/>
<circle cx="205.9" cy="197.2" r="11.7"/>
<circle cx="211.7" cy="192.9" r="19.5"/>
<circle cx="24.8" cy="331.1" r="0.35" fill="#d8d8ec" stroke="none"/>
<circle cx="30.7" cy="328.3" r="0.35" fill="#d8d8ec" stroke="none"/>
<circle cx="36.5" cy="325.4" r="0.35" fill="#d8d8ec" stroke="none"/>
<circle cx="42.4" cy="322.6" r="0.35" fill="#d8d8ec" stroke="none"/>
<circle cx="48.2" cy="319.8" r="0.35" fill="#d8d8ec" stroke="none"/>
<circle cx="54.0" cy="316.9" r="0.35" fill="#d8d8ec" stroke="none"/>
<circle cx="59.9" cy="314.1" r="0.35" fill="#d8d8ec" stroke="none"/>
<circle cx="65.7" cy="311.2" r="0.35" fill="#d8d8ec" stroke="none"/>
<circle cx="71.6" cy="308.4" r="0.35" fill="#d8d8ec" stroke="none"/>
<circle cx="77.4" cy="305.5" r="0.35" fill="#d8d8ec" stroke="none"/>
<circle cx="83.2" cy="302.6" r="0.35" fill="#d8d8ec" stroke="none"/>
<circle cx="89.1" cy="299.8" r="0.35" fill="#d8d8ec" stroke="none"/>
<circle cx="94.9" cy="296.9" r="0.35" fill="#d8d8ec" stroke="none"/>
<circle cx="100.8" cy="294.1" r="0.35" fill="#d8d8ec" stroke="none"/>
<circle cx="106.6" cy="291.2" r="0.35" fill="#d8d8ec" stroke="none"/>
<circle cx="112.4" cy="288.4" r="0.35" fill="#d8d8ec" stroke="none"/>
<circle cx="118.3" cy="285.6" r="0.35" fill="#d8d8ec" stroke="none"/>
<circle cx="124.1" cy="282.7" r="0.35" fill="#d8d8ec" stroke="none"/>
<circle cx="130.0" cy="279.9" r="0.35" fill="#d8d8ec" stroke="none"/>
<circle cx="135.8" cy="277.0" r="0.35" fill="#d8d8ec" stroke="none"/>
<circle cx="141.6" cy="274.1" r="0.35" fill="#d8d8ec" stroke="none"/>
<circle cx="147.5" cy="271.3" r="0.35" fill="#d8d8ec" stroke="none"/>
<circle cx="153.3" cy="268.4" r="0.35" fill="#d8d8ec" stroke="none"/>
<circle cx="159.2" cy="265.6" r="0.35" fill="#d8d8ec" stroke="none"/>
<circle cx="165.0" cy="262.8" r="0.35" fill="#d8d8ec" stroke="none"/>
<circle cx="170.8" cy="259.9" r="0.35" fill="#d8d8ec" stroke="none"/>
<circle cx="176.7" cy="257.1" r="0.35" fill="#d8d8ec" stroke="none"/>
<circle cx="182.5" cy="254.2" r="0.35" fill="#d8d8ec" stroke="none"/>
<circle cx="188.4" cy="251.4" r="0.35" fill="#d8d8ec" stroke="none"/>
<circle cx="194.2" cy="248.5" r="0.35" fill="#d8d8ec" stroke="none"/>
<circle cx="200.0" cy="245.7" r="0.35" fill="#d8d8ec" stroke="none"/>
<circle cx="205.9" cy="242.8" r="0.35" fill="#d8d8ec" stroke="none"/>
<circle cx="211.7" cy="239.9" r="0.35" fill="#d8d8ec" stroke="none"/>
<circle cx="217.6" cy="237.1" r="0.35" fill="#d8d8ec" stroke="none"/>
<circle cx="223.4" cy="234.2" r="0.35" fill="#d8d8ec" stroke="none"/>
<circle cx="229.2" cy="231.4" r="0.35" fill="#d8d8ec" stroke="none"/>
<circle cx="235.1" cy="228.6" r="0.35" fill="#d8d8ec" stroke="none"/>
<circle cx="240.9" cy="225.7" r="0.35" fill="#d8d8ec" stroke="none"/>
<circle cx="246.8" cy="222.8" r="0.35" fill="#d8d8ec" stroke="none"/>
<circle cx="252.6" cy="220.0" r="0.35" fill="#d8d8ec" stroke="none"/>
<circle cx="24.8" cy="332.6" r="0.35" fill="#d8d8ec" stroke="none"/>
<circle cx="30.7" cy="331.1" r="0.35" fill="#d8d8ec" stroke="none"/>
<circle cx="36.5" cy="329.7" r="0.35" fill="#d8d8ec" stroke="none"/>
<circle cx="42.4" cy="328.3" r="0.35" fill="#d8d8ec" stroke="none"/>
<circle cx="48.2" cy="326.9" r="0.35" fill="#d8d8ec" stroke="none"/>
<circle cx="54.0" cy="325.4" r="0.35" fill="#d8d8ec" stroke="none"/>
<circle cx="59.9" cy="324.0" r="0.35" fill="#d8d8ec" stroke="none"/>
<circle cx="65.7" cy="322.6" r="0.35" fill="#d8d8ec" stroke="none"/>
<circle cx="71.6" cy="321.2" r="0.35" fill="#d8d8ec" stroke="none"/>
<circle cx="77.4" cy="319.8" r="0.35" fill="#d8d8ec" stroke="none"/>
<circle cx="83.2" cy="318.3" r="0.35" fill="#d8d8ec" stroke="none"/>
<circle cx="89.1" cy="316.9" r="0.35" fill="#d8d8ec" stroke="none"/>
<circle cx="94.9" cy="315.5" r="0.35" fill="#d8d8ec" stroke="none"/>
<circle cx="100.8" cy="314.1" r="0.35" fill="#d8d8ec" stroke="none"/>
<circle cx="106.6" cy="312.6" r="0.35" fill="#d8d8ec" stroke="none"/>
<circle cx="112.4" cy="311.2" r="0.35" fill="#d8d8ec" stroke="none"/>
<circle cx="118.3" cy="309.8" r="0.35" fill="#d8d8ec" stroke="none"/>
<circle cx="124.1" cy="308.4" r="0.35" fill="#d8d8ec" stroke="none"/>
<circle cx="130.0" cy="306.9" r="0.35" fill="#d8d8ec" stroke="none"/>
<circle cx="135.8" cy="305.5" r="0.35" fill="#d8d8ec" stroke="none"/>
<circle cx="141.6" cy="304.1" r="0.35" fill="#d8d8ec" stroke="none"/>
<circle cx="147.5" cy="302.6" r="0.35" fill="#d8d8ec" stroke="none"/>
<circle cx="153.3" cy="301.2" r="0.35" fill="#d8d8ec" stroke="none"/>
<circle cx="159.2" cy="299.8" r="0.35" fill="#d8d8ec" stroke="none"/>
<circle cx="165.0" cy="298.4" r="0.35" fill="#d8d8ec" stroke="none"/>
<circle cx="170.8" cy="296.9" r="0.35" fill="#d8d8ec" stroke="none"/>
<circle cx="176.7" cy="295.5" r="0.35" fill="#d8d8ec" stroke="none"/>
<circle cx="182.5" cy="294.1" r="0.35" fill="#d8d8ec" stroke="none"/>
<circle cx="188.4" cy="292.7" r="0.35" fill="#d8d8ec" stroke="none"/>
<circle cx="194.2" cy="291.2" r="0.35" fill="#d8d8ec" stroke="none"/>
<circle cx="200.0" cy="289.8" r="0.35" fill="#d8d8ec" stroke="none"/>
<circle cx="205.9" cy="288.4" r="0.35" fill="#d8d8ec" stroke="none"/>
<circle cx="211.7" cy="287.0" r="0.35" fill="#d8d8ec" stroke="none"/>
<circle cx="217.6" cy="285.6" r="0.35" fill="#d8d8ec" stroke="none"/>
<circle cx="223.4" cy="284.1" r="0.35" fill="#d8d8ec" stroke="none"/>
<circle cx="229.2" cy="282.7" r="0.35" fill="#d8d8ec" stroke="none"/>
<circle cx="235.1" cy="281.3" r="0.35" fill="#d8d8ec" stroke="none"/>
<circle cx="240.9" cy="279.9" r="0.35" fill="#d8d8ec" stroke="none"/>
<circle cx="246.8" cy="278.4" r="0.35" fill="#d8d8ec" stroke="none"/>
<circle cx="252.6" cy="277.0" r="0.35" fill="#d8d8ec" stroke="none"/>
</g>
<line clip-path="url(#clipc)" x1="17.5" y1="335.39" x2="174.3" y2="189.6" stroke="#e06070" stroke-width="0.8"/>
<rect x="17.5" y="189.6" width="238.2" height="147.70000000000002" fill="none" stroke="#a8a8a8" stroke-width="1.1"/>
<line x1="17.5" y1="189.6" x2="17.5" y2="337.3" stroke="#808080" stroke-width="1.1"/>
<line x1="17.5" y1="337.3" x2="255.7" y2="337.3" stroke="#858585" stroke-width="1.1"/>
<line x1="16.1" y1="334.9" x2="17.5" y2="334.9" stroke="#555" stroke-width="0.6"/>
<line x1="16.1" y1="332.0" x2="17.5" y2="332.0" stroke="#555" stroke-width="0.6"/>
<line x1="16.1" y1="329.2" x2="17.5" y2="329.2" stroke="#555" stroke-width="0.6"/>
<line x1="16.1" y1="326.3" x2="17.5" y2="326.3" stroke="#555" stroke-width="0.6"/>
<line x1="16.1" y1="323.4" x2="17.5" y2="323.4" stroke="#555" stroke-width="0.6"/>
<line x1="16.1" y1="320.6" x2="17.5" y2="320.6" stroke="#555" stroke-width="0.6"/>
<line x1="16.1" y1="317.7" x2="17.5" y2="317.7" stroke="#555" stroke-width="0.6"/>
<line x1="16.1" y1="314.8" x2="17.5" y2="314.8" stroke="#555" stroke-width="0.6"/>
<line x1="16.1" y1="312.0" x2="17.5" y2="312.0" stroke="#555" stroke-width="0.6"/>
<line x1="16.1" y1="309.1" x2="17.5" y2="309.1" stroke="#555" stroke-width="0.6"/>
<line x1="16.1" y1="306.2" x2="17.5" y2="306.2" stroke="#555" stroke-width="0.6"/>
<line x1="16.1" y1="303.4" x2="17.5" y2="303.4" stroke="#555" stroke-width="0.6"/>
<line x1="16.1" y1="300.5" x2="17.5" y2="300.5" stroke="#555" stroke-width="0.6"/>
<line x1="16.1" y1="297.6" x2="17.5" y2="297.6" stroke="#555" stroke-width="0.6"/>
<line x1="16.1" y1="294.7" x2="17.5" y2="294.7" stroke="#555" stroke-width="0.6"/>
<line x1="16.1" y1="291.9" x2="17.5" y2="291.9" stroke="#555" stroke-width="0.6"/>
<line x1="16.1" y1="289.0" x2="17.5" y2="289.0" stroke="#555" stroke-width="0.6"/>
<line x1="16.1" y1="286.1" x2="17.5" y2="286.1" stroke="#555" stroke-width="0.6"/>
<line x1="16.1" y1="283.3" x2="17.5" y2="283.3" stroke="#555" stroke-width="0.6"/>
<line x1="16.1" y1="280.4" x2="17.5" y2="280.4" stroke="#555" stroke-width="0.6"/>
<line x1="16.1" y1="277.5" x2="17.5" y2="277.5" stroke="#555" stroke-width="0.6"/>
<line x1="16.1" y1="274.7" x2="17.5" y2="274.7" stroke="#555" stroke-width="0.6"/>
<line x1="16.1" y1="271.8" x2="17.5" y2="271.8" stroke="#555" stroke-width="0.6"/>
<line x1="16.1" y1="268.9" x2="17.5" y2="268.9" stroke="#555" stroke-width="0.6"/>
<line x1="16.1" y1="266.1" x2="17.5" y2="266.1" stroke="#555" stroke-width="0.6"/>
<line x1="16.1" y1="263.2" x2="17.5" y2="263.2" stroke="#555" stroke-width="0.6"/>
<line x1="16.1" y1="260.3" x2="17.5" y2="260.3" stroke="#555" stroke-width="0.6"/>
<line x1="16.1" y1="257.5" x2="17.5" y2="257.5" stroke="#555" stroke-width="0.6"/>
<line x1="16.1" y1="254.6" x2="17.5" y2="254.6" stroke="#555" stroke-width="0.6"/>
<line x1="16.1" y1="251.7" x2="17.5" y2="251.7" stroke="#555" stroke-width="0.6"/>
<line x1="16.1" y1="248.9" x2="17.5" y2="248.9" stroke="#555" stroke-width="0.6"/>
<line x1="16.1" y1="246.0" x2="17.5" y2="246.0" stroke="#555" stroke-width="0.6"/>
<line x1="16.1" y1="243.1" x2="17.5" y2="243.1" stroke="#555" stroke-width="0.6"/>
<line x1="16.1" y1="240.3" x2="17.5" y2="240.3" stroke="#555" stroke-width="0.6"/>
<line x1="16.1" y1="237.4" x2="17.5" y2="237.4" stroke="#555" stroke-width="0.6"/>
<line x1="16.1" y1="234.5" x2="17.5" y2="234.5" stroke="#555" stroke-width="0.6"/>
<line x1="16.1" y1="231.7" x2="17.5" y2="231.7" stroke="#555" stroke-width="0.6"/>
<line x1="16.1" y1="228.8" x2="17.5" y2="228.8" stroke="#555" stroke-width="0.6"/>
<line x1="16.1" y1="225.9" x2="17.5" y2="225.9" stroke="#555" stroke-width="0.6"/>
<line x1="16.1" y1="223.0" x2="17.5" y2="223.0" stroke="#555" stroke-width="0.6"/>
<line x1="16.1" y1="220.2" x2="17.5" y2="220.2" stroke="#555" stroke-width="0.6"/>
<line x1="16.1" y1="217.3" x2="17.5" y2="217.3" stroke="#555" stroke-width="0.6"/>
<line x1="16.1" y1="214.4" x2="17.5" y2="214.4" stroke="#555" stroke-width="0.6"/>
<line x1="16.1" y1="211.6" x2="17.5" y2="211.6" stroke="#555" stroke-width="0.6"/>
<line x1="16.1" y1="208.7" x2="17.5" y2="208.7" stroke="#555" stroke-width="0.6"/>
<line x1="16.1" y1="205.8" x2="17.5" y2="205.8" stroke="#555" stroke-width="0.6"/>
<line x1="16.1" y1="203.0" x2="17.5" y2="203.0" stroke="#555" stroke-width="0.6"/>
<line x1="16.1" y1="200.1" x2="17.5" y2="200.1" stroke="#555" stroke-width="0.6"/>
<line x1="16.1" y1="197.2" x2="17.5" y2="197.2" stroke="#555" stroke-width="0.6"/>
<line x1="16.1" y1="194.4" x2="17.5" y2="194.4" stroke="#555" stroke-width="0.6"/>
<line x1="16.1" y1="191.5" x2="17.5" y2="191.5" stroke="#555" stroke-width="0.6"/>
<line x1="19.0" y1="336.0" x2="19.0" y2="337.3" stroke="#666" stroke-width="0.6"/>
<line x1="24.8" y1="336.0" x2="24.8" y2="337.3" stroke="#666" stroke-width="0.6"/>
<line x1="30.7" y1="336.0" x2="30.7" y2="337.3" stroke="#666" stroke-width="0.6"/>
<line x1="36.5" y1="336.0" x2="36.5" y2="337.3" stroke="#666" stroke-width="0.6"/>
<line x1="42.4" y1="336.0" x2="42.4" y2="337.3" stroke="#666" stroke-width="0.6"/>
<line x1="48.2" y1="336.0" x2="48.2" y2="337.3" stroke="#666" stroke-width="0.6"/>
<line x1="54.0" y1="336.0" x2="54.0" y2="337.3" stroke="#666" stroke-width="0.6"/>
<line x1="59.9" y1="336.0" x2="59.9" y2="337.3" stroke="#666" stroke-width="0.6"/>
<line x1="65.7" y1="336.0" x2="65.7" y2="337.3" stroke="#666" stroke-width="0.6"/>
<line x1="71.6" y1="336.0" x2="71.6" y2="337.3" stroke="#666" stroke-width="0.6"/>
<line x1="77.4" y1="336.0" x2="77.4" y2="337.3" stroke="#666" stroke-width="0.6"/>
<line x1="83.2" y1="336.0" x2="83.2" y2="337.3" stroke="#666" stroke-width="0.6"/>
<line x1="89.1" y1="336.0" x2="89.1" y2="337.3" stroke="#666" stroke-width="0.6"/>
<line x1="94.9" y1="336.0" x2="94.9" y2="337.3" stroke="#666" stroke-width="0.6"/>
<line x1="100.8" y1="336.0" x2="100.8" y2="337.3" stroke="#666" stroke-width="0.6"/>
<line x1="106.6" y1="336.0" x2="106.6" y2="337.3" stroke="#666" stroke-width="0.6"/>
<line x1="112.4" y1="336.0" x2="112.4" y2="337.3" stroke="#666" stroke-width="0.6"/>
<line x1="118.3" y1="336.0" x2="118.3" y2="337.3" stroke="#666" stroke-width="0.6"/>
<line x1="124.1" y1="336.0" x2="124.1" y2="337.3" stroke="#666" stroke-width="0.6"/>
<line x1="130.0" y1="336.0" x2="130.0" y2="337.3" stroke="#666" stroke-width="0.6"/>
<line x1="135.8" y1="336.0" x2="135.8" y2="337.3" stroke="#666" stroke-width="0.6"/>
<line x1="141.6" y1="336.0" x2="141.6" y2="337.3" stroke="#666" stroke-width="0.6"/>
<line x1="147.5" y1="336.0" x2="147.5" y2="337.3" stroke="#666" stroke-width="0.6"/>
<line x1="153.3" y1="336.0" x2="153.3" y2="337.3" stroke="#666" stroke-width="0.6"/>
<line x1="159.2" y1="336.0" x2="159.2" y2="337.3" stroke="#666" stroke-width="0.6"/>
<line x1="165.0" y1="336.0" x2="165.0" y2="337.3" stroke="#666" stroke-width="0.6"/>
<line x1="170.8" y1="336.0" x2="170.8" y2="337.3" stroke="#666" stroke-width="0.6"/>
<line x1="176.7" y1="336.0" x2="176.7" y2="337.3" stroke="#666" stroke-width="0.6"/>
<line x1="182.5" y1="336.0" x2="182.5" y2="337.3" stroke="#666" stroke-width="0.6"/>
<line x1="188.4" y1="336.0" x2="188.4" y2="337.3" stroke="#666" stroke-width="0.6"/>
<line x1="194.2" y1="336.0" x2="194.2" y2="337.3" stroke="#666" stroke-width="0.6"/>
<line x1="200.0" y1="336.0" x2="200.0" y2="337.3" stroke="#666" stroke-width="0.6"/>
<line x1="205.9" y1="336.0" x2="205.9" y2="337.3" stroke="#666" stroke-width="0.6"/>
<line x1="211.7" y1="336.0" x2="211.7" y2="337.3" stroke="#666" stroke-width="0.6"/>
<line x1="217.6" y1="336.0" x2="217.6" y2="337.3" stroke="#666" stroke-width="0.6"/>
<line x1="223.4" y1="336.0" x2="223.4" y2="337.3" stroke="#666" stroke-width="0.6"/>
<line x1="229.2" y1="336.0" x2="229.2" y2="337.3" stroke="#666" stroke-width="0.6"/>
<line x1="235.1" y1="336.0" x2="235.1" y2="337.3" stroke="#666" stroke-width="0.6"/>
<line x1="240.9" y1="336.0" x2="240.9" y2="337.3" stroke="#666" stroke-width="0.6"/>
<line x1="246.8" y1="336.0" x2="246.8" y2="337.3" stroke="#666" stroke-width="0.6"/>
<line x1="252.6" y1="336.0" x2="252.6" y2="337.3" stroke="#666" stroke-width="0.6"/>
<clipPath id="clipd"><rect x="330.5" y="191.5" width="263.0" height="149.5"/></clipPath>
<g clip-path="url(#clipd)" fill="none" stroke="#3838c8" stroke-width="0.9">
<circle cx="336.4" cy="326.1" r="1.9"/>
<circle cx="342.9" cy="314.6" r="2.8"/>
<circle cx="349.4" cy="303.2" r="3.4"/>
<circle cx="355.8" cy="291.7" r="4.1"/>
<circle cx="362.2" cy="280.2" r="4.9"/>
<circle cx="368.7" cy="268.7" r="6.0"/>
<circle cx="375.1" cy="257.2" r="7.3"/>
<circle cx="381.6" cy="245.8" r="7.9"/>
<circle cx="388.1" cy="234.3" r="8.8"/>
<circle cx="394.5" cy="222.8" r="9.8"/>
<circle cx="400.9" cy="211.3" r="11.5"/>
<circle cx="407.4" cy="199.8" r="15.5"/>
<circle cx="336.4" cy="329.0" r="1.5"/>
<circle cx="342.9" cy="320.4" r="1.9"/>
<circle cx="349.4" cy="311.8" r="2.4"/>
<circle cx="355.8" cy="303.2" r="3.3"/>
<circle cx="368.7" cy="285.9" r="4.1"/>
<circle cx="381.6" cy="268.7" r="6.0"/>
<circle cx="400.9" cy="242.9" r="8.3"/>
<circle cx="407.4" cy="234.3" r="8.8"/>
<circle cx="413.9" cy="225.7" r="9.6"/>
<circle cx="426.8" cy="208.5" r="12.0"/>
<circle cx="433.2" cy="199.8" r="15.5"/>
<circle cx="336.4" cy="331.9" r="0.9"/>
<circle cx="342.9" cy="326.1" r="1.7"/>
<circle cx="349.4" cy="320.4" r="1.9"/>
<circle cx="355.8" cy="314.6" r="2.3"/>
<circle cx="362.2" cy="308.9" r="2.6"/>
<circle cx="368.7" cy="303.2" r="2.8"/>
<circle cx="375.1" cy="297.4" r="3.0"/>
<circle cx="381.6" cy="291.7" r="3.4"/>
<circle cx="388.1" cy="285.9" r="4.2"/>
<circle cx="394.5" cy="280.2" r="4.6"/>
<circle cx="400.9" cy="274.5" r="5.0"/>
<circle cx="407.9" cy="270.2" r="5.4"/>
<circle cx="414.4" cy="264.5" r="5.75"/>
<circle cx="420.8" cy="258.7" r="5.86"/>
<circle cx="427.2" cy="253.0" r="5.98"/>
<circle cx="433.7" cy="247.3" r="6.09"/>
<circle cx="440.1" cy="241.5" r="6.21"/>
<circle cx="446.6" cy="235.8" r="6.44"/>
<circle cx="453.1" cy="230.0" r="6.67"/>
<circle cx="459.5" cy="224.3" r="6.9"/>
<circle cx="465.9" cy="218.6" r="7.36"/>
<circle cx="472.4" cy="212.8" r="7.93"/>
<circle cx="478.9" cy="207.1" r="8.2"/>
<circle cx="485.3" cy="201.3" r="10.5"/>
<circle cx="336.4" cy="333.3" r="1.05" fill="#4040c0" stroke="none"/>
<circle cx="342.9" cy="329.0" r="1.1"/>
<circle cx="349.4" cy="324.7" r="1.2"/>
<circle cx="355.8" cy="320.4" r="1.5"/>
<circle cx="368.7" cy="311.8" r="1.9"/>
<circle cx="381.6" cy="303.2" r="2.25"/>
<circle cx="402.1" cy="290.7" r="3.0"/>
<circle cx="408.6" cy="286.4" r="3.4"/>
<circle cx="415.1" cy="282.1" r="3.5"/>
<circle cx="427.9" cy="273.5" r="4.0"/>
<circle cx="434.4" cy="269.2" r="4.3"/>
<circle cx="440.8" cy="264.9" r="4.7"/>
<circle cx="466.9" cy="249.2" r="5.38"/>
<circle cx="473.4" cy="244.9" r="5.49"/>
<circle cx="486.3" cy="236.3" r="6.5"/>
<circle cx="492.8" cy="232.0" r="6.72"/>
<circle cx="499.2" cy="227.7" r="7.17"/>
<circle cx="505.6" cy="223.4" r="6.94"/>
<circle cx="518.5" cy="214.8" r="7.7"/>
<circle cx="525.0" cy="210.5" r="7.0"/>
<circle cx="531.5" cy="206.1" r="7.6"/>
<circle cx="537.9" cy="201.8" r="9.2"/>
<circle cx="544.4" cy="197.5" r="10.2"/>
<circle cx="550.8" cy="193.2" r="14.5"/>
<circle cx="336.4" cy="334.7" r="0.35" fill="#d8d8ec" stroke="none"/>
<circle cx="342.9" cy="331.9" r="0.35" fill="#d8d8ec" stroke="none"/>
<circle cx="349.4" cy="329.0" r="0.35" fill="#d8d8ec" stroke="none"/>
<circle cx="355.8" cy="326.1" r="0.35" fill="#d8d8ec" stroke="none"/>
<circle cx="362.2" cy="323.2" r="0.35" fill="#d8d8ec" stroke="none"/>
<circle cx="368.7" cy="320.4" r="0.35" fill="#d8d8ec" stroke="none"/>
<circle cx="375.1" cy="317.5" r="0.35" fill="#d8d8ec" stroke="none"/>
<circle cx="381.6" cy="314.6" r="0.35" fill="#d8d8ec" stroke="none"/>
<circle cx="388.1" cy="311.8" r="0.35" fill="#d8d8ec" stroke="none"/>
<circle cx="394.5" cy="308.9" r="0.35" fill="#d8d8ec" stroke="none"/>
<circle cx="400.9" cy="306.0" r="0.35" fill="#d8d8ec" stroke="none"/>
<circle cx="407.4" cy="303.2" r="0.35" fill="#d8d8ec" stroke="none"/>
<circle cx="413.9" cy="300.3" r="0.35" fill="#d8d8ec" stroke="none"/>
<circle cx="420.3" cy="297.4" r="0.35" fill="#d8d8ec" stroke="none"/>
<circle cx="426.8" cy="294.6" r="0.35" fill="#d8d8ec" stroke="none"/>
<circle cx="433.2" cy="291.7" r="0.35" fill="#d8d8ec" stroke="none"/>
<circle cx="439.6" cy="288.8" r="0.35" fill="#d8d8ec" stroke="none"/>
<circle cx="446.1" cy="285.9" r="0.35" fill="#d8d8ec" stroke="none"/>
<circle cx="452.6" cy="283.1" r="0.35" fill="#d8d8ec" stroke="none"/>
<circle cx="459.0" cy="280.2" r="0.35" fill="#d8d8ec" stroke="none"/>
<circle cx="465.4" cy="277.3" r="0.35" fill="#d8d8ec" stroke="none"/>
<circle cx="471.9" cy="274.5" r="0.35" fill="#d8d8ec" stroke="none"/>
<circle cx="478.4" cy="271.6" r="0.35" fill="#d8d8ec" stroke="none"/>
<circle cx="484.8" cy="268.7" r="0.35" fill="#d8d8ec" stroke="none"/>
<circle cx="491.2" cy="265.9" r="0.35" fill="#d8d8ec" stroke="none"/>
<circle cx="497.7" cy="263.0" r="0.35" fill="#d8d8ec" stroke="none"/>
<circle cx="504.1" cy="260.1" r="0.35" fill="#d8d8ec" stroke="none"/>
<circle cx="510.6" cy="257.2" r="0.35" fill="#d8d8ec" stroke="none"/>
<circle cx="517.0" cy="254.4" r="0.35" fill="#d8d8ec" stroke="none"/>
<circle cx="523.5" cy="251.5" r="0.35" fill="#d8d8ec" stroke="none"/>
<circle cx="530.0" cy="248.6" r="0.35" fill="#d8d8ec" stroke="none"/>
<circle cx="536.4" cy="245.8" r="0.35" fill="#d8d8ec" stroke="none"/>
<circle cx="542.9" cy="242.9" r="0.35" fill="#d8d8ec" stroke="none"/>
<circle cx="549.3" cy="240.0" r="0.35" fill="#d8d8ec" stroke="none"/>
<circle cx="555.8" cy="237.2" r="0.35" fill="#d8d8ec" stroke="none"/>
<circle cx="562.2" cy="234.3" r="0.35" fill="#d8d8ec" stroke="none"/>
<circle cx="568.6" cy="231.4" r="0.35" fill="#d8d8ec" stroke="none"/>
<circle cx="575.1" cy="228.5" r="0.35" fill="#d8d8ec" stroke="none"/>
<circle cx="581.5" cy="225.7" r="0.35" fill="#d8d8ec" stroke="none"/>
<circle cx="588.0" cy="222.8" r="0.35" fill="#d8d8ec" stroke="none"/>
</g>
<line clip-path="url(#clipd)" x1="330.5" y1="337.17" x2="501.5" y2="191.5" stroke="#e06070" stroke-width="0.8"/>
<rect x="330.5" y="191.5" width="263.0" height="149.5" fill="none" stroke="#a8a8a8" stroke-width="1.1"/>
<line x1="330.5" y1="191.5" x2="330.5" y2="341" stroke="#808080" stroke-width="1.1"/>
<line x1="330.5" y1="341" x2="593.5" y2="341" stroke="#a0a0a0" stroke-width="1.1"/>
<line x1="329.1" y1="338.1" x2="330.5" y2="338.1" stroke="#555" stroke-width="0.6"/>
<line x1="329.1" y1="335.2" x2="330.5" y2="335.2" stroke="#555" stroke-width="0.6"/>
<line x1="329.1" y1="332.3" x2="330.5" y2="332.3" stroke="#555" stroke-width="0.6"/>
<line x1="329.1" y1="329.4" x2="330.5" y2="329.4" stroke="#555" stroke-width="0.6"/>
<line x1="329.1" y1="326.5" x2="330.5" y2="326.5" stroke="#555" stroke-width="0.6"/>
<line x1="329.1" y1="323.6" x2="330.5" y2="323.6" stroke="#555" stroke-width="0.6"/>
<line x1="329.1" y1="320.7" x2="330.5" y2="320.7" stroke="#555" stroke-width="0.6"/>
<line x1="329.1" y1="317.8" x2="330.5" y2="317.8" stroke="#555" stroke-width="0.6"/>
<line x1="329.1" y1="314.9" x2="330.5" y2="314.9" stroke="#555" stroke-width="0.6"/>
<line x1="329.1" y1="311.9" x2="330.5" y2="311.9" stroke="#555" stroke-width="0.6"/>
<line x1="329.1" y1="309.0" x2="330.5" y2="309.0" stroke="#555" stroke-width="0.6"/>
<line x1="329.1" y1="306.1" x2="330.5" y2="306.1" stroke="#555" stroke-width="0.6"/>
<line x1="329.1" y1="303.2" x2="330.5" y2="303.2" stroke="#555" stroke-width="0.6"/>
<line x1="329.1" y1="300.3" x2="330.5" y2="300.3" stroke="#555" stroke-width="0.6"/>
<line x1="329.1" y1="297.4" x2="330.5" y2="297.4" stroke="#555" stroke-width="0.6"/>
<line x1="329.1" y1="294.5" x2="330.5" y2="294.5" stroke="#555" stroke-width="0.6"/>
<line x1="329.1" y1="291.6" x2="330.5" y2="291.6" stroke="#555" stroke-width="0.6"/>
<line x1="329.1" y1="288.7" x2="330.5" y2="288.7" stroke="#555" stroke-width="0.6"/>
<line x1="329.1" y1="285.8" x2="330.5" y2="285.8" stroke="#555" stroke-width="0.6"/>
<line x1="329.1" y1="282.9" x2="330.5" y2="282.9" stroke="#555" stroke-width="0.6"/>
<line x1="329.1" y1="280.0" x2="330.5" y2="280.0" stroke="#555" stroke-width="0.6"/>
<line x1="329.1" y1="277.1" x2="330.5" y2="277.1" stroke="#555" stroke-width="0.6"/>
<line x1="329.1" y1="274.2" x2="330.5" y2="274.2" stroke="#555" stroke-width="0.6"/>
<line x1="329.1" y1="271.3" x2="330.5" y2="271.3" stroke="#555" stroke-width="0.6"/>
<line x1="329.1" y1="268.4" x2="330.5" y2="268.4" stroke="#555" stroke-width="0.6"/>
<line x1="329.1" y1="265.5" x2="330.5" y2="265.5" stroke="#555" stroke-width="0.6"/>
<line x1="329.1" y1="262.5" x2="330.5" y2="262.5" stroke="#555" stroke-width="0.6"/>
<line x1="329.1" y1="259.6" x2="330.5" y2="259.6" stroke="#555" stroke-width="0.6"/>
<line x1="329.1" y1="256.7" x2="330.5" y2="256.7" stroke="#555" stroke-width="0.6"/>
<line x1="329.1" y1="253.8" x2="330.5" y2="253.8" stroke="#555" stroke-width="0.6"/>
<line x1="329.1" y1="250.9" x2="330.5" y2="250.9" stroke="#555" stroke-width="0.6"/>
<line x1="329.1" y1="248.0" x2="330.5" y2="248.0" stroke="#555" stroke-width="0.6"/>
<line x1="329.1" y1="245.1" x2="330.5" y2="245.1" stroke="#555" stroke-width="0.6"/>
<line x1="329.1" y1="242.2" x2="330.5" y2="242.2" stroke="#555" stroke-width="0.6"/>
<line x1="329.1" y1="239.3" x2="330.5" y2="239.3" stroke="#555" stroke-width="0.6"/>
<line x1="329.1" y1="236.4" x2="330.5" y2="236.4" stroke="#555" stroke-width="0.6"/>
<line x1="329.1" y1="233.5" x2="330.5" y2="233.5" stroke="#555" stroke-width="0.6"/>
<line x1="329.1" y1="230.6" x2="330.5" y2="230.6" stroke="#555" stroke-width="0.6"/>
<line x1="329.1" y1="227.7" x2="330.5" y2="227.7" stroke="#555" stroke-width="0.6"/>
<line x1="329.1" y1="224.8" x2="330.5" y2="224.8" stroke="#555" stroke-width="0.6"/>
<line x1="329.1" y1="221.9" x2="330.5" y2="221.9" stroke="#555" stroke-width="0.6"/>
<line x1="329.1" y1="219.0" x2="330.5" y2="219.0" stroke="#555" stroke-width="0.6"/>
<line x1="329.1" y1="216.0" x2="330.5" y2="216.0" stroke="#555" stroke-width="0.6"/>
<line x1="329.1" y1="213.1" x2="330.5" y2="213.1" stroke="#555" stroke-width="0.6"/>
<line x1="329.1" y1="210.2" x2="330.5" y2="210.2" stroke="#555" stroke-width="0.6"/>
<line x1="329.1" y1="207.3" x2="330.5" y2="207.3" stroke="#555" stroke-width="0.6"/>
<line x1="329.1" y1="204.4" x2="330.5" y2="204.4" stroke="#555" stroke-width="0.6"/>
<line x1="329.1" y1="201.5" x2="330.5" y2="201.5" stroke="#555" stroke-width="0.6"/>
<line x1="329.1" y1="198.6" x2="330.5" y2="198.6" stroke="#555" stroke-width="0.6"/>
<line x1="329.1" y1="195.7" x2="330.5" y2="195.7" stroke="#555" stroke-width="0.6"/>
<line x1="329.1" y1="192.8" x2="330.5" y2="192.8" stroke="#555" stroke-width="0.6"/>
<line x1="330.0" y1="338.4" x2="330.0" y2="339.6" stroke="#777" stroke-width="0.7"/>
<line x1="336.4" y1="338.4" x2="336.4" y2="339.6" stroke="#777" stroke-width="0.7"/>
<line x1="342.9" y1="338.4" x2="342.9" y2="339.6" stroke="#777" stroke-width="0.7"/>
<line x1="349.4" y1="338.4" x2="349.4" y2="339.6" stroke="#777" stroke-width="0.7"/>
<line x1="355.8" y1="338.4" x2="355.8" y2="339.6" stroke="#777" stroke-width="0.7"/>
<line x1="362.2" y1="338.4" x2="362.2" y2="339.6" stroke="#777" stroke-width="0.7"/>
<line x1="368.7" y1="338.4" x2="368.7" y2="339.6" stroke="#777" stroke-width="0.7"/>
<line x1="375.1" y1="338.4" x2="375.1" y2="339.6" stroke="#777" stroke-width="0.7"/>
<line x1="381.6" y1="338.4" x2="381.6" y2="339.6" stroke="#777" stroke-width="0.7"/>
<line x1="388.1" y1="338.4" x2="388.1" y2="339.6" stroke="#777" stroke-width="0.7"/>
<line x1="394.5" y1="338.4" x2="394.5" y2="339.6" stroke="#777" stroke-width="0.7"/>
<line x1="400.9" y1="338.4" x2="400.9" y2="339.6" stroke="#777" stroke-width="0.7"/>
<line x1="407.4" y1="338.4" x2="407.4" y2="339.6" stroke="#777" stroke-width="0.7"/>
<line x1="413.9" y1="338.4" x2="413.9" y2="339.6" stroke="#777" stroke-width="0.7"/>
<line x1="420.3" y1="338.4" x2="420.3" y2="339.6" stroke="#777" stroke-width="0.7"/>
<line x1="426.8" y1="338.4" x2="426.8" y2="339.6" stroke="#777" stroke-width="0.7"/>
<line x1="433.2" y1="338.4" x2="433.2" y2="339.6" stroke="#777" stroke-width="0.7"/>
<line x1="439.6" y1="338.4" x2="439.6" y2="339.6" stroke="#777" stroke-width="0.7"/>
<line x1="446.1" y1="338.4" x2="446.1" y2="339.6" stroke="#777" stroke-width="0.7"/>
<line x1="452.6" y1="338.4" x2="452.6" y2="339.6" stroke="#777" stroke-width="0.7"/>
<line x1="459.0" y1="338.4" x2="459.0" y2="339.6" stroke="#777" stroke-width="0.7"/>
<line x1="465.4" y1="338.4" x2="465.4" y2="339.6" stroke="#777" stroke-width="0.7"/>
<line x1="471.9" y1="338.4" x2="471.9" y2="339.6" stroke="#777" stroke-width="0.7"/>
<line x1="478.4" y1="338.4" x2="478.4" y2="339.6" stroke="#777" stroke-width="0.7"/>
<line x1="484.8" y1="338.4" x2="484.8" y2="339.6" stroke="#777" stroke-width="0.7"/>
<line x1="491.2" y1="338.4" x2="491.2" y2="339.6" stroke="#777" stroke-width="0.7"/>
<line x1="497.7" y1="338.4" x2="497.7" y2="339.6" stroke="#777" stroke-width="0.7"/>
<line x1="504.1" y1="338.4" x2="504.1" y2="339.6" stroke="#777" stroke-width="0.7"/>
<line x1="510.6" y1="338.4" x2="510.6" y2="339.6" stroke="#777" stroke-width="0.7"/>
<line x1="517.0" y1="338.4" x2="517.0" y2="339.6" stroke="#777" stroke-width="0.7"/>
<line x1="523.5" y1="338.4" x2="523.5" y2="339.6" stroke="#777" stroke-width="0.7"/>
<line x1="530.0" y1="338.4" x2="530.0" y2="339.6" stroke="#777" stroke-width="0.7"/>
<line x1="536.4" y1="338.4" x2="536.4" y2="339.6" stroke="#777" stroke-width="0.7"/>
<line x1="542.9" y1="338.4" x2="542.9" y2="339.6" stroke="#777" stroke-width="0.7"/>
<line x1="549.3" y1="338.4" x2="549.3" y2="339.6" stroke="#777" stroke-width="0.7"/>
<line x1="555.8" y1="338.4" x2="555.8" y2="339.6" stroke="#777" stroke-width="0.7"/>
<line x1="562.2" y1="338.4" x2="562.2" y2="339.6" stroke="#777" stroke-width="0.7"/>
<line x1="568.6" y1="338.4" x2="568.6" y2="339.6" stroke="#777" stroke-width="0.7"/>
<line x1="575.1" y1="338.4" x2="575.1" y2="339.6" stroke="#777" stroke-width="0.7"/>
<line x1="581.5" y1="338.4" x2="581.5" y2="339.6" stroke="#777" stroke-width="0.7"/>
<line x1="588.0" y1="338.4" x2="588.0" y2="339.6" stroke="#777" stroke-width="0.7"/>
<g opacity="0.995">
<text transform="translate(15.30,155.62) scale(0.2450,0.1838) rotate(0.01)" text-anchor="end" font-family="Liberation Mono" font-weight="bold" text-rendering="geometricPrecision" font-size="20" fill="#111">0.0</text>
<text transform="translate(15.30,141.14) scale(0.2450,0.1838) rotate(0.01)" text-anchor="end" font-family="Liberation Mono" font-weight="bold" text-rendering="geometricPrecision" font-size="20" fill="#111">0.1</text>
<text transform="translate(15.30,126.66) scale(0.2450,0.1838) rotate(0.01)" text-anchor="end" font-family="Liberation Mono" font-weight="bold" text-rendering="geometricPrecision" font-size="20" fill="#111">0.2</text>
<text transform="translate(15.30,112.18) scale(0.2450,0.1838) rotate(0.01)" text-anchor="end" font-family="Liberation Mono" font-weight="bold" text-rendering="geometricPrecision" font-size="20" fill="#111">0.3</text>
<text transform="translate(15.30,97.70) scale(0.2450,0.1838) rotate(0.01)" text-anchor="end" font-family="Liberation Mono" font-weight="bold" text-rendering="geometricPrecision" font-size="20" fill="#111">0.4</text>
<text transform="translate(15.30,83.22) scale(0.2450,0.1838) rotate(0.01)" text-anchor="end" font-family="Liberation Mono" font-weight="bold" text-rendering="geometricPrecision" font-size="20" fill="#111">0.5</text>
<text transform="translate(15.30,68.74) scale(0.2450,0.1838) rotate(0.01)" text-anchor="end" font-family="Liberation Mono" font-weight="bold" text-rendering="geometricPrecision" font-size="20" fill="#111">0.6</text>
<text transform="translate(15.30,54.26) scale(0.2450,0.1838) rotate(0.01)" text-anchor="end" font-family="Liberation Mono" font-weight="bold" text-rendering="geometricPrecision" font-size="20" fill="#111">0.7</text>
<text transform="translate(15.30,39.78) scale(0.2450,0.1838) rotate(0.01)" text-anchor="end" font-family="Liberation Mono" font-weight="bold" text-rendering="geometricPrecision" font-size="20" fill="#111">0.8</text>
<text transform="translate(15.30,25.30) scale(0.2450,0.1838) rotate(0.01)" text-anchor="end" font-family="Liberation Mono" font-weight="bold" text-rendering="geometricPrecision" font-size="20" fill="#111">0.9</text>
<text transform="translate(15.30,10.82) scale(0.2450,0.1838) rotate(0.01)" text-anchor="end" font-family="Liberation Mono" font-weight="bold" text-rendering="geometricPrecision" font-size="20" fill="#111">1.0</text>
<text transform="translate(14.90,7.14) scale(0.2300,0.1725) rotate(0.01)" text-anchor="end" font-family="Liberation Mono" font-weight="bold" text-rendering="geometricPrecision" font-size="20" fill="#111">r m</text>
<text transform="translate(18.80,163.52) scale(0.2450,0.1838) rotate(0.01)" text-anchor="middle" font-family="Liberation Mono" font-weight="bold" text-rendering="geometricPrecision" font-size="20" fill="#111">0.0</text>
<text transform="translate(77.20,163.52) scale(0.2450,0.1838) rotate(0.01)" text-anchor="middle" font-family="Liberation Mono" font-weight="bold" text-rendering="geometricPrecision" font-size="20" fill="#111">0.1</text>
<text transform="translate(135.60,163.52) scale(0.2450,0.1838) rotate(0.01)" text-anchor="middle" font-family="Liberation Mono" font-weight="bold" text-rendering="geometricPrecision" font-size="20" fill="#111">0.2</text>
<text transform="translate(194.00,163.52) scale(0.2450,0.1838) rotate(0.01)" text-anchor="middle" font-family="Liberation Mono" font-weight="bold" text-rendering="geometricPrecision" font-size="20" fill="#111">0.3</text>
<text transform="translate(252.40,163.52) scale(0.2450,0.1838) rotate(0.01)" text-anchor="middle" font-family="Liberation Mono" font-weight="bold" text-rendering="geometricPrecision" font-size="20" fill="#111">0.4</text>
<text transform="translate(134.50,170.74) scale(0.2300,0.1725) rotate(0.01)" text-anchor="middle" font-family="Liberation Mono" font-weight="bold" text-rendering="geometricPrecision" font-size="20" fill="#111">r00</text>
<text transform="translate(325.30,155.62) scale(0.2450,0.1838) rotate(0.01)" text-anchor="end" font-family="Liberation Mono" font-weight="bold" text-rendering="geometricPrecision" font-size="20" fill="#111">0.0</text>
<text transform="translate(325.30,141.14) scale(0.2450,0.1838) rotate(0.01)" text-anchor="end" font-family="Liberation Mono" font-weight="bold" text-rendering="geometricPrecision" font-size="20" fill="#111">0.1</text>
<text transform="translate(325.30,126.66) scale(0.2450,0.1838) rotate(0.01)" text-anchor="end" font-family="Liberation Mono" font-weight="bold" text-rendering="geometricPrecision" font-size="20" fill="#111">0.2</text>
<text transform="translate(325.30,112.18) scale(0.2450,0.1838) rotate(0.01)" text-anchor="end" font-family="Liberation Mono" font-weight="bold" text-rendering="geometricPrecision" font-size="20" fill="#111">0.3</text>
<text transform="translate(325.30,97.70) scale(0.2450,0.1838) rotate(0.01)" text-anchor="end" font-family="Liberation Mono" font-weight="bold" text-rendering="geometricPrecision" font-size="20" fill="#111">0.4</text>
<text transform="translate(325.30,83.22) scale(0.2450,0.1838) rotate(0.01)" text-anchor="end" font-family="Liberation Mono" font-weight="bold" text-rendering="geometricPrecision" font-size="20" fill="#111">0.5</text>
<text transform="translate(325.30,68.74) scale(0.2450,0.1838) rotate(0.01)" text-anchor="end" font-family="Liberation Mono" font-weight="bold" text-rendering="geometricPrecision" font-size="20" fill="#111">0.6</text>
<text transform="translate(325.30,54.26) scale(0.2450,0.1838) rotate(0.01)" text-anchor="end" font-family="Liberation Mono" font-weight="bold" text-rendering="geometricPrecision" font-size="20" fill="#111">0.7</text>
<text transform="translate(325.30,39.78) scale(0.2450,0.1838) rotate(0.01)" text-anchor="end" font-family="Liberation Mono" font-weight="bold" text-rendering="geometricPrecision" font-size="20" fill="#111">0.8</text>
<text transform="translate(325.30,25.30) scale(0.2450,0.1838) rotate(0.01)" text-anchor="end" font-family="Liberation Mono" font-weight="bold" text-rendering="geometricPrecision" font-size="20" fill="#111">0.9</text>
<text transform="translate(325.30,10.82) scale(0.2450,0.1838) rotate(0.01)" text-anchor="end" font-family="Liberation Mono" font-weight="bold" text-rendering="geometricPrecision" font-size="20" fill="#111">1.0</text>
<text transform="translate(324.90,7.14) scale(0.2300,0.1725) rotate(0.01)" text-anchor="end" font-family="Liberation Mono" font-weight="bold" text-rendering="geometricPrecision" font-size="20" fill="#111">r m</text>
<text transform="translate(329.30,163.02) scale(0.2450,0.1838) rotate(0.01)" text-anchor="middle" font-family="Liberation Mono" font-weight="bold" text-rendering="geometricPrecision" font-size="20" fill="#111">0.0</text>
<text transform="translate(393.00,163.02) scale(0.2450,0.1838) rotate(0.01)" text-anchor="middle" font-family="Liberation Mono" font-weight="bold" text-rendering="geometricPrecision" font-size="20" fill="#111">0.1</text>
<text transform="translate(456.70,163.02) scale(0.2450,0.1838) rotate(0.01)" text-anchor="middle" font-family="Liberation Mono" font-weight="bold" text-rendering="geometricPrecision" font-size="20" fill="#111">0.2</text>
<text transform="translate(520.40,163.02) scale(0.2450,0.1838) rotate(0.01)" text-anchor="middle" font-family="Liberation Mono" font-weight="bold" text-rendering="geometricPrecision" font-size="20" fill="#111">0.3</text>
<text transform="translate(584.10,163.02) scale(0.2450,0.1838) rotate(0.01)" text-anchor="middle" font-family="Liberation Mono" font-weight="bold" text-rendering="geometricPrecision" font-size="20" fill="#111">0.4</text>
<text transform="translate(455.60,170.24) scale(0.2300,0.1725) rotate(0.01)" text-anchor="middle" font-family="Liberation Mono" font-weight="bold" text-rendering="geometricPrecision" font-size="20" fill="#111">r00</text>
<text transform="translate(15.30,336.22) scale(0.2450,0.1838) rotate(0.01)" text-anchor="end" font-family="Liberation Mono" font-weight="bold" text-rendering="geometricPrecision" font-size="20" fill="#111">0.0</text>
<text transform="translate(15.30,321.88) scale(0.2450,0.1838) rotate(0.01)" text-anchor="end" font-family="Liberation Mono" font-weight="bold" text-rendering="geometricPrecision" font-size="20" fill="#111">0.1</text>
<text transform="translate(15.30,307.54) scale(0.2450,0.1838) rotate(0.01)" text-anchor="end" font-family="Liberation Mono" font-weight="bold" text-rendering="geometricPrecision" font-size="20" fill="#111">0.2</text>
<text transform="translate(15.30,293.20) scale(0.2450,0.1838) rotate(0.01)" text-anchor="end" font-family="Liberation Mono" font-weight="bold" text-rendering="geometricPrecision" font-size="20" fill="#111">0.3</text>
<text transform="translate(15.30,278.86) scale(0.2450,0.1838) rotate(0.01)" text-anchor="end" font-family="Liberation Mono" font-weight="bold" text-rendering="geometricPrecision" font-size="20" fill="#111">0.4</text>
<text transform="translate(15.30,264.52) scale(0.2450,0.1838) rotate(0.01)" text-anchor="end" font-family="Liberation Mono" font-weight="bold" text-rendering="geometricPrecision" font-size="20" fill="#111">0.5</text>
<text transform="translate(15.30,250.18) scale(0.2450,0.1838) rotate(0.01)" text-anchor="end" font-family="Liberation Mono" font-weight="bold" text-rendering="geometricPrecision" font-size="20" fill="#111">0.6</text>
<text transform="translate(15.30,235.84) scale(0.2450,0.1838) rotate(0.01)" text-anchor="end" font-family="Liberation Mono" font-weight="bold" text-rendering="geometricPrecision" font-size="20" fill="#111">0.7</text>
<text transform="translate(15.30,221.50) scale(0.2450,0.1838) rotate(0.01)" text-anchor="end" font-family="Liberation Mono" font-weight="bold" text-rendering="geometricPrecision" font-size="20" fill="#111">0.8</text>
<text transform="translate(15.30,207.16) scale(0.2450,0.1838) rotate(0.01)" text-anchor="end" font-family="Liberation Mono" font-weight="bold" text-rendering="geometricPrecision" font-size="20" fill="#111">0.9</text>
<text transform="translate(15.30,192.82) scale(0.2450,0.1838) rotate(0.01)" text-anchor="end" font-family="Liberation Mono" font-weight="bold" text-rendering="geometricPrecision" font-size="20" fill="#111">1.0</text>
<text transform="translate(14.90,189.14) scale(0.2300,0.1725) rotate(0.01)" text-anchor="end" font-family="Liberation Mono" font-weight="bold" text-rendering="geometricPrecision" font-size="20" fill="#111">r m</text>
<text transform="translate(19.30,343.42) scale(0.2450,0.1838) rotate(0.01)" text-anchor="middle" font-family="Liberation Mono" font-weight="bold" text-rendering="geometricPrecision" font-size="20" fill="#111">0.0</text>
<text transform="translate(77.70,343.42) scale(0.2450,0.1838) rotate(0.01)" text-anchor="middle" font-family="Liberation Mono" font-weight="bold" text-rendering="geometricPrecision" font-size="20" fill="#111">0.1</text>
<text transform="translate(136.10,343.42) scale(0.2450,0.1838) rotate(0.01)" text-anchor="middle" font-family="Liberation Mono" font-weight="bold" text-rendering="geometricPrecision" font-size="20" fill="#111">0.2</text>
<text transform="translate(194.50,343.42) scale(0.2450,0.1838) rotate(0.01)" text-anchor="middle" font-family="Liberation Mono" font-weight="bold" text-rendering="geometricPrecision" font-size="20" fill="#111">0.3</text>
<text transform="translate(252.90,343.42) scale(0.2450,0.1838) rotate(0.01)" text-anchor="middle" font-family="Liberation Mono" font-weight="bold" text-rendering="geometricPrecision" font-size="20" fill="#111">0.4</text>
<text transform="translate(135.00,350.74) scale(0.2300,0.1725) rotate(0.01)" text-anchor="middle" font-family="Liberation Mono" font-weight="bold" text-rendering="geometricPrecision" font-size="20" fill="#111">r00</text>
<text transform="translate(328.30,339.42) scale(0.2450,0.1838) rotate(0.01)" text-anchor="end" font-family="Liberation Mono" font-weight="bold" text-rendering="geometricPrecision" font-size="20" fill="#111">0.0</text>
<text transform="translate(328.30,324.89) scale(0.2450,0.1838) rotate(0.01)" text-anchor="end" font-family="Liberation Mono" font-weight="bold" text-rendering="geometricPrecision" font-size="20" fill="#111">0.1</text>
<text transform="translate(328.30,310.36) scale(0.2450,0.1838) rotate(0.01)" text-anchor="end" font-family="Liberation Mono" font-weight="bold" text-rendering="geometricPrecision" font-size="20" fill="#111">0.2</text>
<text transform="translate(328.30,295.83) scale(0.2450,0.1838) rotate(0.01)" text-anchor="end" font-family="Liberation Mono" font-weight="bold" text-rendering="geometricPrecision" font-size="20" fill="#111">0.3</text>
<text transform="translate(328.30,281.30) scale(0.2450,0.1838) rotate(0.01)" text-anchor="end" font-family="Liberation Mono" font-weight="bold" text-rendering="geometricPrecision" font-size="20" fill="#111">0.4</text>
<text transform="translate(328.30,266.77) scale(0.2450,0.1838) rotate(0.01)" text-anchor="end" font-family="Liberation Mono" font-weight="bold" text-rendering="geometricPrecision" font-size="20" fill="#111">0.5</text>
<text transform="translate(328.30,252.24) scale(0.2450,0.1838) rotate(0.01)" text-anchor="end" font-family="Liberation Mono" font-weight="bold" text-rendering="geometricPrecision" font-size="20" fill="#111">0.6</text>
<text transform="translate(328.30,237.71) scale(0.2450,0.1838) rotate(0.01)" text-anchor="end" font-family="Liberation Mono" font-weight="bold" text-rendering="geometricPrecision" font-size="20" fill="#111">0.7</text>
<text transform="translate(328.30,223.18) scale(0.2450,0.1838) rotate(0.01)" text-anchor="end" font-family="Liberation Mono" font-weight="bold" text-rendering="geometricPrecision" font-size="20" fill="#111">0.8</text>
<text transform="translate(328.30,208.65) scale(0.2450,0.1838) rotate(0.01)" text-anchor="end" font-family="Liberation Mono" font-weight="bold" text-rendering="geometricPrecision" font-size="20" fill="#111">0.9</text>
<text transform="translate(328.30,194.12) scale(0.2450,0.1838) rotate(0.01)" text-anchor="end" font-family="Liberation Mono" font-weight="bold" text-rendering="geometricPrecision" font-size="20" fill="#111">1.0</text>
<text transform="translate(327.90,190.44) scale(0.2300,0.1725) rotate(0.01)" text-anchor="end" font-family="Liberation Mono" font-weight="bold" text-rendering="geometricPrecision" font-size="20" fill="#111">r m</text>
<text transform="translate(330.30,347.12) scale(0.2450,0.1838) rotate(0.01)" text-anchor="middle" font-family="Liberation Mono" font-weight="bold" text-rendering="geometricPrecision" font-size="20" fill="#111">0.0</text>
<text transform="translate(394.80,347.12) scale(0.2450,0.1838) rotate(0.01)" text-anchor="middle" font-family="Liberation Mono" font-weight="bold" text-rendering="geometricPrecision" font-size="20" fill="#111">0.1</text>
<text transform="translate(459.30,347.12) scale(0.2450,0.1838) rotate(0.01)" text-anchor="middle" font-family="Liberation Mono" font-weight="bold" text-rendering="geometricPrecision" font-size="20" fill="#111">0.2</text>
<text transform="translate(523.80,347.12) scale(0.2450,0.1838) rotate(0.01)" text-anchor="middle" font-family="Liberation Mono" font-weight="bold" text-rendering="geometricPrecision" font-size="20" fill="#111">0.3</text>
<text transform="translate(588.30,347.12) scale(0.2450,0.1838) rotate(0.01)" text-anchor="middle" font-family="Liberation Mono" font-weight="bold" text-rendering="geometricPrecision" font-size="20" fill="#111">0.4</text>
<text transform="translate(458.20,354.44) scale(0.2300,0.1725) rotate(0.01)" text-anchor="middle" font-family="Liberation Mono" font-weight="bold" text-rendering="geometricPrecision" font-size="20" fill="#111">r00</text>
<text x="115.7" y="183" font-family="Liberation Serif" font-size="9.3" fill="#000" text-rendering="geometricPrecision" stroke="#000" stroke-width="0.15">a. Δ ICR</text>
<text x="438.7" y="183" font-family="Liberation Serif" font-size="9.3" fill="#000" text-rendering="geometricPrecision" stroke="#000" stroke-width="0.15">b. Δ AP</text>
<text x="121.6" y="365.1" font-family="Liberation Serif" font-size="9.3" fill="#000" text-rendering="geometricPrecision" stroke="#000" stroke-width="0.15">c. Δ S</text>
<text x="438.4" y="369.6" font-family="Liberation Serif" font-size="9.3" fill="#000" text-rendering="geometricPrecision" stroke="#000" stroke-width="0.15">d. Δ Log S</text>
</g>
</svg></body></html>
